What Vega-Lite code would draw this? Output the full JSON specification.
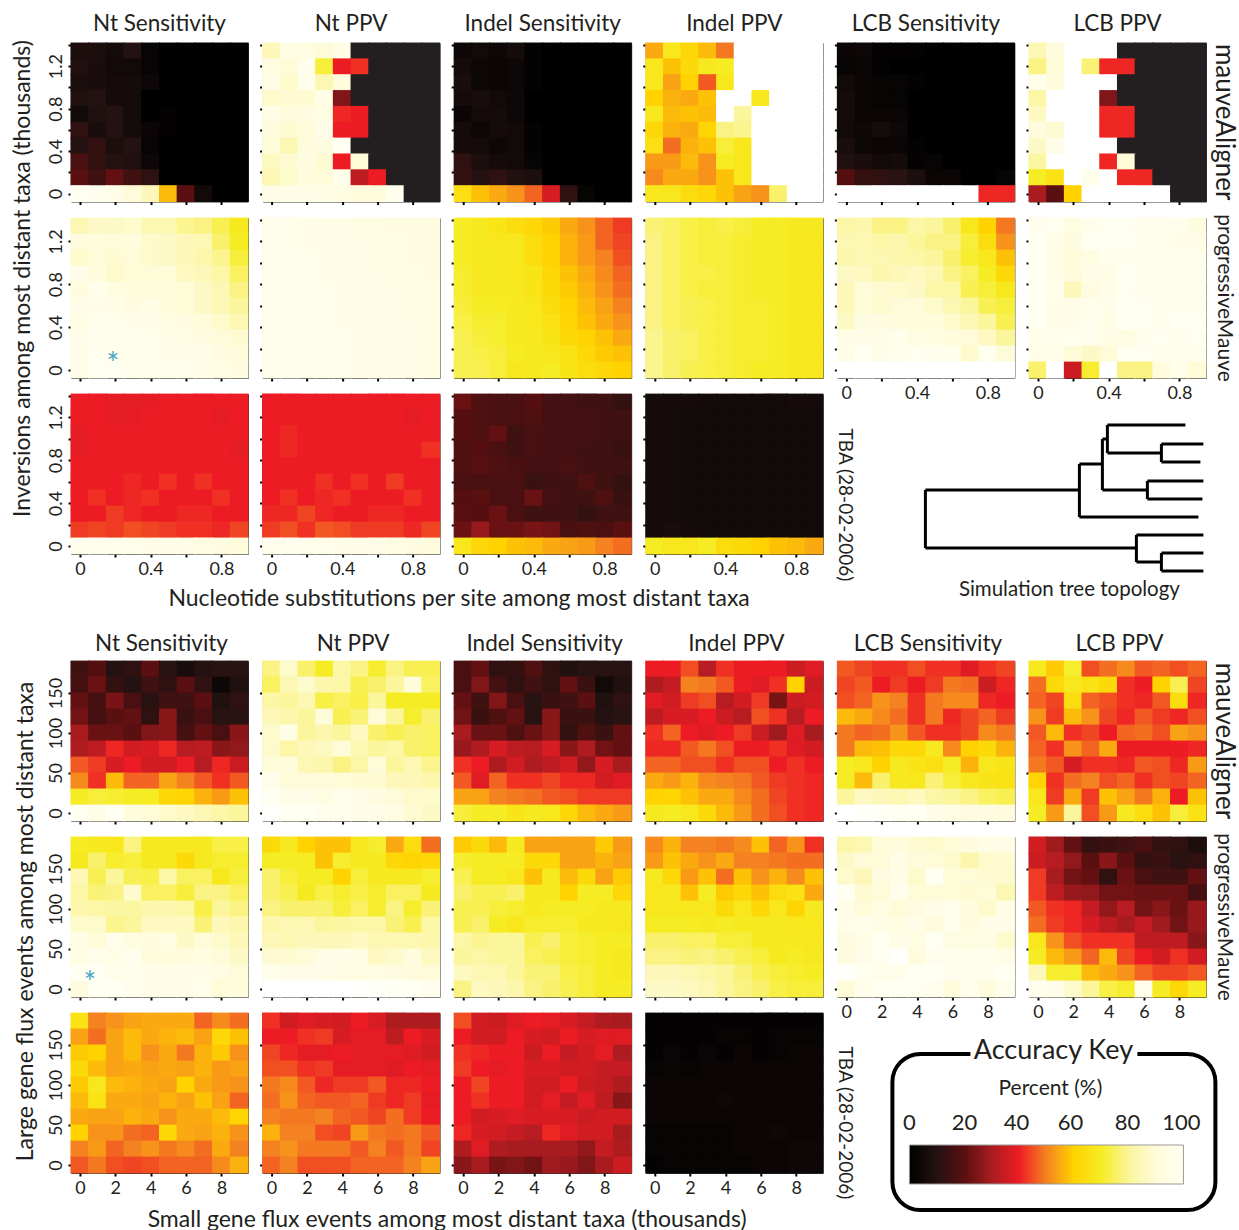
{"$schema":"https://vega.github.io/schema/vega-lite/v6.json","padding":{"left":10,"top":12,"right":0,"bottom":0},"background":"white",
"config":{"font":"Lato","legend":{"disable":true},"view":{"stroke":"#333","strokeWidth":1},"rect":{"width":18.8,"height":16.8,"clip":true},"range":{"heatmap":["#231f20","#000000","#241212","#5a0f10","#a81c20","#ed1c24","#f58220","#ffd200","#f6ec23","#fbf59b","#fefbd8","#fffff2","#ffffff"]},"axis":{"grid":false,"domain":false,"tickSize":3,"tickWidth":2,"tickColor":"#000","labelFontSize":18,"labelColor":"#231f20","labelFont":"Lato","titleFont":"Lato","titleFontWeight":"normal","titleColor":"#231f20","titleFontSize":23,"labelOverlap":false,"labelPadding":3},"title":{"font":"Lato","fontSize":22.5,"fontWeight":"normal","color":"#231f20","offset":7}},
"datasets":{
"a1":[{"x":0,"y":9,"v":8},{"x":1,"y":9,"v":8},{"x":2,"y":9,"v":6},{"x":3,"y":9,"v":10},{"x":4,"y":9,"v":2},{"x":5,"y":9,"v":0},{"x":6,"y":9,"v":0},{"x":7,"y":9,"v":0},{"x":8,"y":9,"v":0},{"x":9,"y":9,"v":0},{"x":0,"y":8,"v":9},{"x":1,"y":8,"v":7},{"x":2,"y":8,"v":5},{"x":3,"y":8,"v":5},{"x":4,"y":8,"v":2},{"x":5,"y":8,"v":0},{"x":6,"y":8,"v":0},{"x":7,"y":8,"v":0},{"x":8,"y":8,"v":0},{"x":9,"y":8,"v":0},{"x":0,"y":7,"v":8},{"x":1,"y":7,"v":7},{"x":2,"y":7,"v":6},{"x":3,"y":7,"v":6},{"x":4,"y":7,"v":4},{"x":5,"y":7,"v":0},{"x":6,"y":7,"v":0},{"x":7,"y":7,"v":0},{"x":8,"y":7,"v":0},{"x":9,"y":7,"v":0},{"x":0,"y":6,"v":9},{"x":1,"y":6,"v":10},{"x":2,"y":6,"v":6},{"x":3,"y":6,"v":6},{"x":4,"y":6,"v":0},{"x":5,"y":6,"v":0},{"x":6,"y":6,"v":0},{"x":7,"y":6,"v":0},{"x":8,"y":6,"v":0},{"x":9,"y":6,"v":0},{"x":0,"y":5,"v":5},{"x":1,"y":5,"v":9},{"x":2,"y":5,"v":10},{"x":3,"y":5,"v":6},{"x":4,"y":5,"v":0},{"x":5,"y":5,"v":1},{"x":6,"y":5,"v":0},{"x":7,"y":5,"v":0},{"x":8,"y":5,"v":0},{"x":9,"y":5,"v":0},{"x":0,"y":4,"v":12},{"x":1,"y":4,"v":7},{"x":2,"y":4,"v":10},{"x":3,"y":4,"v":6},{"x":4,"y":4,"v":3},{"x":5,"y":4,"v":1},{"x":6,"y":4,"v":0},{"x":7,"y":4,"v":0},{"x":8,"y":4,"v":0},{"x":9,"y":4,"v":0},{"x":0,"y":3,"v":10},{"x":1,"y":3,"v":13},{"x":2,"y":3,"v":8},{"x":3,"y":3,"v":10},{"x":4,"y":3,"v":2},{"x":5,"y":3,"v":0},{"x":6,"y":3,"v":0},{"x":7,"y":3,"v":0},{"x":8,"y":3,"v":0},{"x":9,"y":3,"v":0},{"x":0,"y":2,"v":17},{"x":1,"y":2,"v":13},{"x":2,"y":2,"v":10},{"x":3,"y":2,"v":9},{"x":4,"y":2,"v":4},{"x":5,"y":2,"v":0},{"x":6,"y":2,"v":0},{"x":7,"y":2,"v":0},{"x":8,"y":2,"v":0},{"x":9,"y":2,"v":0},{"x":0,"y":1,"v":20},{"x":1,"y":1,"v":15},{"x":2,"y":1,"v":21},{"x":3,"y":1,"v":15},{"x":4,"y":1,"v":12},{"x":5,"y":1,"v":0},{"x":6,"y":1,"v":0},{"x":7,"y":1,"v":0},{"x":8,"y":1,"v":0},{"x":9,"y":1,"v":0},{"x":0,"y":0,"v":100},{"x":1,"y":0,"v":98},{"x":2,"y":0,"v":96},{"x":3,"y":0,"v":91},{"x":4,"y":0,"v":85},{"x":5,"y":0,"v":57},{"x":6,"y":0,"v":20},{"x":7,"y":0,"v":5},{"x":8,"y":0,"v":0},{"x":9,"y":0,"v":0}],
"a2":[{"x":0,"y":9,"v":85},{"x":1,"y":9,"v":94},{"x":2,"y":9,"v":94},{"x":3,"y":9,"v":90},{"x":4,"y":9,"v":95},{"x":5,"y":9,"v":-10},{"x":6,"y":9,"v":-10},{"x":7,"y":9,"v":-10},{"x":8,"y":9,"v":-10},{"x":9,"y":9,"v":-10},{"x":0,"y":8,"v":94},{"x":1,"y":8,"v":90},{"x":2,"y":8,"v":97},{"x":3,"y":8,"v":72},{"x":4,"y":8,"v":40},{"x":5,"y":8,"v":42},{"x":6,"y":8,"v":-10},{"x":7,"y":8,"v":-10},{"x":8,"y":8,"v":-10},{"x":9,"y":8,"v":-10},{"x":0,"y":7,"v":95},{"x":1,"y":7,"v":88},{"x":2,"y":7,"v":97},{"x":3,"y":7,"v":84},{"x":4,"y":7,"v":92},{"x":5,"y":7,"v":-10},{"x":6,"y":7,"v":-10},{"x":7,"y":7,"v":-10},{"x":8,"y":7,"v":-10},{"x":9,"y":7,"v":-10},{"x":0,"y":6,"v":88},{"x":1,"y":6,"v":89},{"x":2,"y":6,"v":89},{"x":3,"y":6,"v":95},{"x":4,"y":6,"v":25},{"x":5,"y":6,"v":-10},{"x":6,"y":6,"v":-10},{"x":7,"y":6,"v":-10},{"x":8,"y":6,"v":-10},{"x":9,"y":6,"v":-10},{"x":0,"y":5,"v":95},{"x":1,"y":5,"v":92},{"x":2,"y":5,"v":93},{"x":3,"y":5,"v":94},{"x":4,"y":5,"v":41},{"x":5,"y":5,"v":40},{"x":6,"y":5,"v":-10},{"x":7,"y":5,"v":-10},{"x":8,"y":5,"v":-10},{"x":9,"y":5,"v":-10},{"x":0,"y":4,"v":92},{"x":1,"y":4,"v":89},{"x":2,"y":4,"v":90},{"x":3,"y":4,"v":96},{"x":4,"y":4,"v":40},{"x":5,"y":4,"v":40},{"x":6,"y":4,"v":-10},{"x":7,"y":4,"v":-10},{"x":8,"y":4,"v":-10},{"x":9,"y":4,"v":-10},{"x":0,"y":3,"v":91},{"x":1,"y":3,"v":84},{"x":2,"y":3,"v":92},{"x":3,"y":3,"v":93},{"x":4,"y":3,"v":100},{"x":5,"y":3,"v":-10},{"x":6,"y":3,"v":-10},{"x":7,"y":3,"v":-10},{"x":8,"y":3,"v":-10},{"x":9,"y":3,"v":-10},{"x":0,"y":2,"v":86},{"x":1,"y":2,"v":89},{"x":2,"y":2,"v":93},{"x":3,"y":2,"v":89},{"x":4,"y":2,"v":40},{"x":5,"y":2,"v":90},{"x":6,"y":2,"v":-10},{"x":7,"y":2,"v":-10},{"x":8,"y":2,"v":-10},{"x":9,"y":2,"v":-10},{"x":0,"y":1,"v":84},{"x":1,"y":1,"v":88},{"x":2,"y":1,"v":92},{"x":3,"y":1,"v":90},{"x":4,"y":1,"v":97},{"x":5,"y":1,"v":33},{"x":6,"y":1,"v":40},{"x":7,"y":1,"v":-10},{"x":8,"y":1,"v":-10},{"x":9,"y":1,"v":-10},{"x":0,"y":0,"v":96},{"x":1,"y":0,"v":95},{"x":2,"y":0,"v":95},{"x":3,"y":0,"v":95},{"x":4,"y":0,"v":94},{"x":5,"y":0,"v":92},{"x":6,"y":0,"v":92},{"x":7,"y":0,"v":98},{"x":8,"y":0,"v":-10},{"x":9,"y":0,"v":-10}],
"a3":[{"x":0,"y":9,"v":4},{"x":1,"y":9,"v":5},{"x":2,"y":9,"v":4},{"x":3,"y":9,"v":6},{"x":4,"y":9,"v":1},{"x":5,"y":9,"v":0},{"x":6,"y":9,"v":0},{"x":7,"y":9,"v":0},{"x":8,"y":9,"v":0},{"x":9,"y":9,"v":0},{"x":0,"y":8,"v":6},{"x":1,"y":8,"v":4},{"x":2,"y":8,"v":3},{"x":3,"y":8,"v":4},{"x":4,"y":8,"v":1},{"x":5,"y":8,"v":0},{"x":6,"y":8,"v":0},{"x":7,"y":8,"v":0},{"x":8,"y":8,"v":0},{"x":9,"y":8,"v":0},{"x":0,"y":7,"v":7},{"x":1,"y":7,"v":4},{"x":2,"y":7,"v":3},{"x":3,"y":7,"v":4},{"x":4,"y":7,"v":1},{"x":5,"y":7,"v":0},{"x":6,"y":7,"v":0},{"x":7,"y":7,"v":0},{"x":8,"y":7,"v":0},{"x":9,"y":7,"v":0},{"x":0,"y":6,"v":6},{"x":1,"y":6,"v":7},{"x":2,"y":6,"v":5},{"x":3,"y":6,"v":4},{"x":4,"y":6,"v":0},{"x":5,"y":6,"v":0},{"x":6,"y":6,"v":0},{"x":7,"y":6,"v":0},{"x":8,"y":6,"v":0},{"x":9,"y":6,"v":0},{"x":0,"y":5,"v":3},{"x":1,"y":5,"v":6},{"x":2,"y":5,"v":6},{"x":3,"y":5,"v":4},{"x":4,"y":5,"v":0},{"x":5,"y":5,"v":0},{"x":6,"y":5,"v":0},{"x":7,"y":5,"v":0},{"x":8,"y":5,"v":0},{"x":9,"y":5,"v":0},{"x":0,"y":4,"v":6},{"x":1,"y":4,"v":4},{"x":2,"y":4,"v":6},{"x":3,"y":4,"v":5},{"x":4,"y":4,"v":1},{"x":5,"y":4,"v":0},{"x":6,"y":4,"v":0},{"x":7,"y":4,"v":0},{"x":8,"y":4,"v":0},{"x":9,"y":4,"v":0},{"x":0,"y":3,"v":6},{"x":1,"y":3,"v":6},{"x":2,"y":3,"v":4},{"x":3,"y":3,"v":5},{"x":4,"y":3,"v":1},{"x":5,"y":3,"v":0},{"x":6,"y":3,"v":0},{"x":7,"y":3,"v":0},{"x":8,"y":3,"v":0},{"x":9,"y":3,"v":0},{"x":0,"y":2,"v":12},{"x":1,"y":2,"v":8},{"x":2,"y":2,"v":6},{"x":3,"y":2,"v":5},{"x":4,"y":2,"v":2},{"x":5,"y":2,"v":0},{"x":6,"y":2,"v":0},{"x":7,"y":2,"v":0},{"x":8,"y":2,"v":0},{"x":9,"y":2,"v":0},{"x":0,"y":1,"v":13},{"x":1,"y":1,"v":10},{"x":2,"y":1,"v":12},{"x":3,"y":1,"v":9},{"x":4,"y":1,"v":8},{"x":5,"y":1,"v":0},{"x":6,"y":1,"v":0},{"x":7,"y":1,"v":0},{"x":8,"y":1,"v":0},{"x":9,"y":1,"v":0},{"x":0,"y":0,"v":65},{"x":1,"y":0,"v":58},{"x":2,"y":0,"v":55},{"x":3,"y":0,"v":52},{"x":4,"y":0,"v":47},{"x":5,"y":0,"v":37},{"x":6,"y":0,"v":12},{"x":7,"y":0,"v":2},{"x":8,"y":0,"v":0},{"x":9,"y":0,"v":0}],
"a4":[{"x":0,"y":9,"v":55},{"x":1,"y":9,"v":68},{"x":2,"y":9,"v":62},{"x":3,"y":9,"v":57},{"x":4,"y":9,"v":49},{"x":5,"y":9,"v":110},{"x":6,"y":9,"v":110},{"x":7,"y":9,"v":110},{"x":8,"y":9,"v":110},{"x":9,"y":9,"v":110},{"x":0,"y":8,"v":68},{"x":1,"y":8,"v":58},{"x":2,"y":8,"v":63},{"x":3,"y":8,"v":69},{"x":4,"y":8,"v":70},{"x":5,"y":8,"v":110},{"x":6,"y":8,"v":110},{"x":7,"y":8,"v":110},{"x":8,"y":8,"v":110},{"x":9,"y":8,"v":110},{"x":0,"y":7,"v":68},{"x":1,"y":7,"v":54},{"x":2,"y":7,"v":60},{"x":3,"y":7,"v":46},{"x":4,"y":7,"v":68},{"x":5,"y":7,"v":110},{"x":6,"y":7,"v":110},{"x":7,"y":7,"v":110},{"x":8,"y":7,"v":110},{"x":9,"y":7,"v":110},{"x":0,"y":6,"v":60},{"x":1,"y":6,"v":56},{"x":2,"y":6,"v":55},{"x":3,"y":6,"v":58},{"x":4,"y":6,"v":110},{"x":5,"y":6,"v":110},{"x":6,"y":6,"v":68},{"x":7,"y":6,"v":110},{"x":8,"y":6,"v":110},{"x":9,"y":6,"v":110},{"x":0,"y":5,"v":68},{"x":1,"y":5,"v":57},{"x":2,"y":5,"v":58},{"x":3,"y":5,"v":57},{"x":4,"y":5,"v":110},{"x":5,"y":5,"v":80},{"x":6,"y":5,"v":110},{"x":7,"y":5,"v":110},{"x":8,"y":5,"v":110},{"x":9,"y":5,"v":110},{"x":0,"y":4,"v":62},{"x":1,"y":4,"v":56},{"x":2,"y":4,"v":55},{"x":3,"y":4,"v":61},{"x":4,"y":4,"v":78},{"x":5,"y":4,"v":79},{"x":6,"y":4,"v":110},{"x":7,"y":4,"v":110},{"x":8,"y":4,"v":110},{"x":9,"y":4,"v":110},{"x":0,"y":3,"v":65},{"x":1,"y":3,"v":48},{"x":2,"y":3,"v":56},{"x":3,"y":3,"v":58},{"x":4,"y":3,"v":72},{"x":5,"y":3,"v":68},{"x":6,"y":3,"v":110},{"x":7,"y":3,"v":110},{"x":8,"y":3,"v":110},{"x":9,"y":3,"v":110},{"x":0,"y":2,"v":53},{"x":1,"y":2,"v":53},{"x":2,"y":2,"v":57},{"x":3,"y":2,"v":52},{"x":4,"y":2,"v":70},{"x":5,"y":2,"v":68},{"x":6,"y":2,"v":110},{"x":7,"y":2,"v":110},{"x":8,"y":2,"v":110},{"x":9,"y":2,"v":110},{"x":0,"y":1,"v":51},{"x":1,"y":1,"v":55},{"x":2,"y":1,"v":55},{"x":3,"y":1,"v":52},{"x":4,"y":1,"v":58},{"x":5,"y":1,"v":68},{"x":6,"y":1,"v":110},{"x":7,"y":1,"v":110},{"x":8,"y":1,"v":110},{"x":9,"y":1,"v":110},{"x":0,"y":0,"v":68},{"x":1,"y":0,"v":68},{"x":2,"y":0,"v":64},{"x":3,"y":0,"v":62},{"x":4,"y":0,"v":58},{"x":5,"y":0,"v":54},{"x":6,"y":0,"v":52},{"x":7,"y":0,"v":76},{"x":8,"y":0,"v":110},{"x":9,"y":0,"v":110}],
"a5":[{"x":0,"y":9,"v":3},{"x":1,"y":9,"v":4},{"x":2,"y":9,"v":1},{"x":3,"y":9,"v":1},{"x":4,"y":9,"v":1},{"x":5,"y":9,"v":0},{"x":6,"y":9,"v":0},{"x":7,"y":9,"v":0},{"x":8,"y":9,"v":0},{"x":9,"y":9,"v":0},{"x":0,"y":8,"v":2},{"x":1,"y":8,"v":3},{"x":2,"y":8,"v":1},{"x":3,"y":8,"v":0},{"x":4,"y":8,"v":0},{"x":5,"y":8,"v":0},{"x":6,"y":8,"v":0},{"x":7,"y":8,"v":0},{"x":8,"y":8,"v":0},{"x":9,"y":8,"v":0},{"x":0,"y":7,"v":5},{"x":1,"y":7,"v":3},{"x":2,"y":7,"v":2},{"x":3,"y":7,"v":2},{"x":4,"y":7,"v":1},{"x":5,"y":7,"v":0},{"x":6,"y":7,"v":0},{"x":7,"y":7,"v":0},{"x":8,"y":7,"v":0},{"x":9,"y":7,"v":0},{"x":0,"y":6,"v":6},{"x":1,"y":6,"v":3},{"x":2,"y":6,"v":2},{"x":3,"y":6,"v":2},{"x":4,"y":6,"v":0},{"x":5,"y":6,"v":0},{"x":6,"y":6,"v":0},{"x":7,"y":6,"v":0},{"x":8,"y":6,"v":0},{"x":9,"y":6,"v":0},{"x":0,"y":5,"v":6},{"x":1,"y":5,"v":3},{"x":2,"y":5,"v":3},{"x":3,"y":5,"v":3},{"x":4,"y":5,"v":0},{"x":5,"y":5,"v":0},{"x":6,"y":5,"v":0},{"x":7,"y":5,"v":0},{"x":8,"y":5,"v":0},{"x":9,"y":5,"v":0},{"x":0,"y":4,"v":5},{"x":1,"y":4,"v":4},{"x":2,"y":4,"v":6},{"x":3,"y":4,"v":4},{"x":4,"y":4,"v":0},{"x":5,"y":4,"v":0},{"x":6,"y":4,"v":0},{"x":7,"y":4,"v":0},{"x":8,"y":4,"v":0},{"x":9,"y":4,"v":0},{"x":0,"y":3,"v":7},{"x":1,"y":3,"v":4},{"x":2,"y":3,"v":3},{"x":3,"y":3,"v":3},{"x":4,"y":3,"v":1},{"x":5,"y":3,"v":0},{"x":6,"y":3,"v":0},{"x":7,"y":3,"v":0},{"x":8,"y":3,"v":0},{"x":9,"y":3,"v":0},{"x":0,"y":2,"v":9},{"x":1,"y":2,"v":7},{"x":2,"y":2,"v":5},{"x":3,"y":2,"v":6},{"x":4,"y":2,"v":1},{"x":5,"y":2,"v":2},{"x":6,"y":2,"v":0},{"x":7,"y":2,"v":0},{"x":8,"y":2,"v":0},{"x":9,"y":2,"v":0},{"x":0,"y":1,"v":19},{"x":1,"y":1,"v":13},{"x":2,"y":1,"v":12},{"x":3,"y":1,"v":11},{"x":4,"y":1,"v":8},{"x":5,"y":1,"v":3},{"x":6,"y":1,"v":3},{"x":7,"y":1,"v":0},{"x":8,"y":1,"v":0},{"x":9,"y":1,"v":2},{"x":0,"y":0,"v":110},{"x":1,"y":0,"v":110},{"x":2,"y":0,"v":110},{"x":3,"y":0,"v":110},{"x":4,"y":0,"v":110},{"x":5,"y":0,"v":110},{"x":6,"y":0,"v":110},{"x":7,"y":0,"v":110},{"x":8,"y":0,"v":41},{"x":9,"y":0,"v":41}],
"a6":[{"x":0,"y":9,"v":84},{"x":1,"y":9,"v":92},{"x":2,"y":9,"v":110},{"x":3,"y":9,"v":110},{"x":4,"y":9,"v":110},{"x":5,"y":9,"v":-10},{"x":6,"y":9,"v":-10},{"x":7,"y":9,"v":-10},{"x":8,"y":9,"v":-10},{"x":9,"y":9,"v":-10},{"x":0,"y":8,"v":78},{"x":1,"y":8,"v":90},{"x":2,"y":8,"v":110},{"x":3,"y":8,"v":77},{"x":4,"y":8,"v":41},{"x":5,"y":8,"v":41},{"x":6,"y":8,"v":-10},{"x":7,"y":8,"v":-10},{"x":8,"y":8,"v":-10},{"x":9,"y":8,"v":-10},{"x":0,"y":7,"v":97},{"x":1,"y":7,"v":92},{"x":2,"y":7,"v":110},{"x":3,"y":7,"v":110},{"x":4,"y":7,"v":110},{"x":5,"y":7,"v":-10},{"x":6,"y":7,"v":-10},{"x":7,"y":7,"v":-10},{"x":8,"y":7,"v":-10},{"x":9,"y":7,"v":-10},{"x":0,"y":6,"v":82},{"x":1,"y":6,"v":110},{"x":2,"y":6,"v":110},{"x":3,"y":6,"v":110},{"x":4,"y":6,"v":25},{"x":5,"y":6,"v":-10},{"x":6,"y":6,"v":-10},{"x":7,"y":6,"v":-10},{"x":8,"y":6,"v":-10},{"x":9,"y":6,"v":-10},{"x":0,"y":5,"v":86},{"x":1,"y":5,"v":110},{"x":2,"y":5,"v":110},{"x":3,"y":5,"v":110},{"x":4,"y":5,"v":41},{"x":5,"y":5,"v":41},{"x":6,"y":5,"v":-10},{"x":7,"y":5,"v":-10},{"x":8,"y":5,"v":-10},{"x":9,"y":5,"v":-10},{"x":0,"y":4,"v":92},{"x":1,"y":4,"v":89},{"x":2,"y":4,"v":110},{"x":3,"y":4,"v":110},{"x":4,"y":4,"v":41},{"x":5,"y":4,"v":41},{"x":6,"y":4,"v":-10},{"x":7,"y":4,"v":-10},{"x":8,"y":4,"v":-10},{"x":9,"y":4,"v":-10},{"x":0,"y":3,"v":87},{"x":1,"y":3,"v":96},{"x":2,"y":3,"v":110},{"x":3,"y":3,"v":110},{"x":4,"y":3,"v":110},{"x":5,"y":3,"v":-10},{"x":6,"y":3,"v":-10},{"x":7,"y":3,"v":-10},{"x":8,"y":3,"v":-10},{"x":9,"y":3,"v":-10},{"x":0,"y":2,"v":81},{"x":1,"y":2,"v":110},{"x":2,"y":2,"v":110},{"x":3,"y":2,"v":110},{"x":4,"y":2,"v":41},{"x":5,"y":2,"v":90},{"x":6,"y":2,"v":-10},{"x":7,"y":2,"v":-10},{"x":8,"y":2,"v":-10},{"x":9,"y":2,"v":-10},{"x":0,"y":1,"v":70},{"x":1,"y":1,"v":66},{"x":2,"y":1,"v":110},{"x":3,"y":1,"v":97},{"x":4,"y":1,"v":110},{"x":5,"y":1,"v":41},{"x":6,"y":1,"v":41},{"x":7,"y":1,"v":-10},{"x":8,"y":1,"v":-10},{"x":9,"y":1,"v":-10},{"x":0,"y":0,"v":30},{"x":1,"y":0,"v":20},{"x":2,"y":0,"v":60},{"x":3,"y":0,"v":110},{"x":4,"y":0,"v":110},{"x":5,"y":0,"v":110},{"x":6,"y":0,"v":110},{"x":7,"y":0,"v":110},{"x":8,"y":0,"v":-10},{"x":9,"y":0,"v":-10}],
"b1":[{"x":0,"y":9,"v":84},{"x":1,"y":9,"v":87},{"x":2,"y":9,"v":87},{"x":3,"y":9,"v":88},{"x":4,"y":9,"v":84},{"x":5,"y":9,"v":84},{"x":6,"y":9,"v":79},{"x":7,"y":9,"v":78},{"x":8,"y":9,"v":74},{"x":9,"y":9,"v":69},{"x":0,"y":8,"v":92},{"x":1,"y":8,"v":92},{"x":2,"y":8,"v":90},{"x":3,"y":8,"v":92},{"x":4,"y":8,"v":88},{"x":5,"y":8,"v":87},{"x":6,"y":8,"v":85},{"x":7,"y":8,"v":84},{"x":8,"y":8,"v":76},{"x":9,"y":8,"v":70},{"x":0,"y":7,"v":88},{"x":1,"y":7,"v":90},{"x":2,"y":7,"v":89},{"x":3,"y":7,"v":90},{"x":4,"y":7,"v":88},{"x":5,"y":7,"v":87},{"x":6,"y":7,"v":85},{"x":7,"y":7,"v":83},{"x":8,"y":7,"v":79},{"x":9,"y":7,"v":72},{"x":0,"y":6,"v":96},{"x":1,"y":6,"v":92},{"x":2,"y":6,"v":88},{"x":3,"y":6,"v":90},{"x":4,"y":6,"v":90},{"x":5,"y":6,"v":90},{"x":6,"y":6,"v":86},{"x":7,"y":6,"v":85},{"x":8,"y":6,"v":82},{"x":9,"y":6,"v":75},{"x":0,"y":5,"v":92},{"x":1,"y":5,"v":97},{"x":2,"y":5,"v":94},{"x":3,"y":5,"v":92},{"x":4,"y":5,"v":91},{"x":5,"y":5,"v":91},{"x":6,"y":5,"v":90},{"x":7,"y":5,"v":87},{"x":8,"y":5,"v":84},{"x":9,"y":5,"v":78},{"x":0,"y":4,"v":96},{"x":1,"y":4,"v":95},{"x":2,"y":4,"v":95},{"x":3,"y":4,"v":93},{"x":4,"y":4,"v":95},{"x":5,"y":4,"v":92},{"x":6,"y":4,"v":90},{"x":7,"y":4,"v":87},{"x":8,"y":4,"v":84},{"x":9,"y":4,"v":80},{"x":0,"y":3,"v":95},{"x":1,"y":3,"v":98},{"x":2,"y":3,"v":97},{"x":3,"y":3,"v":96},{"x":4,"y":3,"v":95},{"x":5,"y":3,"v":94},{"x":6,"y":3,"v":93},{"x":7,"y":3,"v":91},{"x":8,"y":3,"v":88},{"x":9,"y":3,"v":84},{"x":0,"y":2,"v":96},{"x":1,"y":2,"v":98},{"x":2,"y":2,"v":98},{"x":3,"y":2,"v":97},{"x":4,"y":2,"v":97},{"x":5,"y":2,"v":95},{"x":6,"y":2,"v":94},{"x":7,"y":2,"v":93},{"x":8,"y":2,"v":91},{"x":9,"y":2,"v":89},{"x":0,"y":1,"v":96},{"x":1,"y":1,"v":99},{"x":2,"y":1,"v":98},{"x":3,"y":1,"v":97},{"x":4,"y":1,"v":97},{"x":5,"y":1,"v":96},{"x":6,"y":1,"v":96},{"x":7,"y":1,"v":96},{"x":8,"y":1,"v":93},{"x":9,"y":1,"v":92},{"x":0,"y":0,"v":96},{"x":1,"y":0,"v":99},{"x":2,"y":0,"v":99},{"x":3,"y":0,"v":98},{"x":4,"y":0,"v":97},{"x":5,"y":0,"v":97},{"x":6,"y":0,"v":97},{"x":7,"y":0,"v":96},{"x":8,"y":0,"v":94},{"x":9,"y":0,"v":93}],
"b2":[{"x":0,"y":9,"v":97},{"x":1,"y":9,"v":97},{"x":2,"y":9,"v":96},{"x":3,"y":9,"v":95},{"x":4,"y":9,"v":95},{"x":5,"y":9,"v":94},{"x":6,"y":9,"v":94},{"x":7,"y":9,"v":93},{"x":8,"y":9,"v":93},{"x":9,"y":9,"v":93},{"x":0,"y":8,"v":98},{"x":1,"y":8,"v":97},{"x":2,"y":8,"v":96},{"x":3,"y":8,"v":96},{"x":4,"y":8,"v":95},{"x":5,"y":8,"v":95},{"x":6,"y":8,"v":94},{"x":7,"y":8,"v":94},{"x":8,"y":8,"v":93},{"x":9,"y":8,"v":93},{"x":0,"y":7,"v":98},{"x":1,"y":7,"v":97},{"x":2,"y":7,"v":97},{"x":3,"y":7,"v":96},{"x":4,"y":7,"v":95},{"x":5,"y":7,"v":95},{"x":6,"y":7,"v":94},{"x":7,"y":7,"v":94},{"x":8,"y":7,"v":93},{"x":9,"y":7,"v":93},{"x":0,"y":6,"v":98},{"x":1,"y":6,"v":97},{"x":2,"y":6,"v":97},{"x":3,"y":6,"v":96},{"x":4,"y":6,"v":96},{"x":5,"y":6,"v":95},{"x":6,"y":6,"v":95},{"x":7,"y":6,"v":94},{"x":8,"y":6,"v":94},{"x":9,"y":6,"v":93},{"x":0,"y":5,"v":98},{"x":1,"y":5,"v":98},{"x":2,"y":5,"v":97},{"x":3,"y":5,"v":97},{"x":4,"y":5,"v":96},{"x":5,"y":5,"v":96},{"x":6,"y":5,"v":95},{"x":7,"y":5,"v":95},{"x":8,"y":5,"v":94},{"x":9,"y":5,"v":94},{"x":0,"y":4,"v":98},{"x":1,"y":4,"v":98},{"x":2,"y":4,"v":97},{"x":3,"y":4,"v":97},{"x":4,"y":4,"v":96},{"x":5,"y":4,"v":96},{"x":6,"y":4,"v":95},{"x":7,"y":4,"v":95},{"x":8,"y":4,"v":94},{"x":9,"y":4,"v":94},{"x":0,"y":3,"v":98},{"x":1,"y":3,"v":98},{"x":2,"y":3,"v":98},{"x":3,"y":3,"v":97},{"x":4,"y":3,"v":96},{"x":5,"y":3,"v":96},{"x":6,"y":3,"v":95},{"x":7,"y":3,"v":95},{"x":8,"y":3,"v":95},{"x":9,"y":3,"v":94},{"x":0,"y":2,"v":98},{"x":1,"y":2,"v":98},{"x":2,"y":2,"v":98},{"x":3,"y":2,"v":97},{"x":4,"y":2,"v":97},{"x":5,"y":2,"v":96},{"x":6,"y":2,"v":96},{"x":7,"y":2,"v":95},{"x":8,"y":2,"v":95},{"x":9,"y":2,"v":94},{"x":0,"y":1,"v":98},{"x":1,"y":1,"v":98},{"x":2,"y":1,"v":98},{"x":3,"y":1,"v":97},{"x":4,"y":1,"v":97},{"x":5,"y":1,"v":96},{"x":6,"y":1,"v":96},{"x":7,"y":1,"v":95},{"x":8,"y":1,"v":95},{"x":9,"y":1,"v":94},{"x":0,"y":0,"v":98},{"x":1,"y":0,"v":98},{"x":2,"y":0,"v":98},{"x":3,"y":0,"v":97},{"x":4,"y":0,"v":97},{"x":5,"y":0,"v":96},{"x":6,"y":0,"v":96},{"x":7,"y":0,"v":95},{"x":8,"y":0,"v":95},{"x":9,"y":0,"v":94}],
"b3":[{"x":0,"y":9,"v":70},{"x":1,"y":9,"v":69},{"x":2,"y":9,"v":67},{"x":3,"y":9,"v":64},{"x":4,"y":9,"v":62},{"x":5,"y":9,"v":59},{"x":6,"y":9,"v":55},{"x":7,"y":9,"v":52},{"x":8,"y":9,"v":47},{"x":9,"y":9,"v":43},{"x":0,"y":8,"v":70},{"x":1,"y":8,"v":69},{"x":2,"y":8,"v":68},{"x":3,"y":8,"v":68},{"x":4,"y":8,"v":64},{"x":5,"y":8,"v":60},{"x":6,"y":8,"v":56},{"x":7,"y":8,"v":53},{"x":8,"y":8,"v":47},{"x":9,"y":8,"v":44},{"x":0,"y":7,"v":70},{"x":1,"y":7,"v":69},{"x":2,"y":7,"v":69},{"x":3,"y":7,"v":68},{"x":4,"y":7,"v":64},{"x":5,"y":7,"v":60},{"x":6,"y":7,"v":56},{"x":7,"y":7,"v":53},{"x":8,"y":7,"v":50},{"x":9,"y":7,"v":45},{"x":0,"y":6,"v":71},{"x":1,"y":6,"v":69},{"x":2,"y":6,"v":69},{"x":3,"y":6,"v":68},{"x":4,"y":6,"v":67},{"x":5,"y":6,"v":62},{"x":6,"y":6,"v":58},{"x":7,"y":6,"v":55},{"x":8,"y":6,"v":51},{"x":9,"y":6,"v":47},{"x":0,"y":5,"v":71},{"x":1,"y":5,"v":69},{"x":2,"y":5,"v":69},{"x":3,"y":5,"v":69},{"x":4,"y":5,"v":67},{"x":5,"y":5,"v":63},{"x":6,"y":5,"v":59},{"x":7,"y":5,"v":56},{"x":8,"y":5,"v":52},{"x":9,"y":5,"v":48},{"x":0,"y":4,"v":72},{"x":1,"y":4,"v":70},{"x":2,"y":4,"v":70},{"x":3,"y":4,"v":69},{"x":4,"y":4,"v":68},{"x":5,"y":4,"v":64},{"x":6,"y":4,"v":60},{"x":7,"y":4,"v":57},{"x":8,"y":4,"v":54},{"x":9,"y":4,"v":50},{"x":0,"y":3,"v":73},{"x":1,"y":3,"v":71},{"x":2,"y":3,"v":71},{"x":3,"y":3,"v":69},{"x":4,"y":3,"v":68},{"x":5,"y":3,"v":66},{"x":6,"y":3,"v":61},{"x":7,"y":3,"v":58},{"x":8,"y":3,"v":55},{"x":9,"y":3,"v":52},{"x":0,"y":2,"v":74},{"x":1,"y":2,"v":72},{"x":2,"y":2,"v":71},{"x":3,"y":2,"v":69},{"x":4,"y":2,"v":69},{"x":5,"y":2,"v":67},{"x":6,"y":2,"v":63},{"x":7,"y":2,"v":60},{"x":8,"y":2,"v":58},{"x":9,"y":2,"v":55},{"x":0,"y":1,"v":74},{"x":1,"y":1,"v":73},{"x":2,"y":1,"v":72},{"x":3,"y":1,"v":70},{"x":4,"y":1,"v":69},{"x":5,"y":1,"v":68},{"x":6,"y":1,"v":66},{"x":7,"y":1,"v":62},{"x":8,"y":1,"v":59},{"x":9,"y":1,"v":58},{"x":0,"y":0,"v":74},{"x":1,"y":0,"v":74},{"x":2,"y":0,"v":72},{"x":3,"y":0,"v":68},{"x":4,"y":0,"v":69},{"x":5,"y":0,"v":70},{"x":6,"y":0,"v":67},{"x":7,"y":0,"v":64},{"x":8,"y":0,"v":62},{"x":9,"y":0,"v":60}],
"b4":[{"x":0,"y":9,"v":77},{"x":1,"y":9,"v":75},{"x":2,"y":9,"v":73},{"x":3,"y":9,"v":72},{"x":4,"y":9,"v":73},{"x":5,"y":9,"v":72},{"x":6,"y":9,"v":70},{"x":7,"y":9,"v":70},{"x":8,"y":9,"v":69},{"x":9,"y":9,"v":69},{"x":0,"y":8,"v":78},{"x":1,"y":8,"v":75},{"x":2,"y":8,"v":73},{"x":3,"y":8,"v":72},{"x":4,"y":8,"v":72},{"x":5,"y":8,"v":71},{"x":6,"y":8,"v":70},{"x":7,"y":8,"v":70},{"x":8,"y":8,"v":69},{"x":9,"y":8,"v":68},{"x":0,"y":7,"v":78},{"x":1,"y":7,"v":75},{"x":2,"y":7,"v":73},{"x":3,"y":7,"v":72},{"x":4,"y":7,"v":72},{"x":5,"y":7,"v":71},{"x":6,"y":7,"v":70},{"x":7,"y":7,"v":70},{"x":8,"y":7,"v":69},{"x":9,"y":7,"v":68},{"x":0,"y":6,"v":78},{"x":1,"y":6,"v":75},{"x":2,"y":6,"v":73},{"x":3,"y":6,"v":73},{"x":4,"y":6,"v":72},{"x":5,"y":6,"v":71},{"x":6,"y":6,"v":70},{"x":7,"y":6,"v":70},{"x":8,"y":6,"v":69},{"x":9,"y":6,"v":68},{"x":0,"y":5,"v":78},{"x":1,"y":5,"v":75},{"x":2,"y":5,"v":73},{"x":3,"y":5,"v":72},{"x":4,"y":5,"v":72},{"x":5,"y":5,"v":71},{"x":6,"y":5,"v":70},{"x":7,"y":5,"v":70},{"x":8,"y":5,"v":69},{"x":9,"y":5,"v":68},{"x":0,"y":4,"v":78},{"x":1,"y":4,"v":75},{"x":2,"y":4,"v":74},{"x":3,"y":4,"v":73},{"x":4,"y":4,"v":72},{"x":5,"y":4,"v":71},{"x":6,"y":4,"v":71},{"x":7,"y":4,"v":70},{"x":8,"y":4,"v":69},{"x":9,"y":4,"v":68},{"x":0,"y":3,"v":78},{"x":1,"y":3,"v":75},{"x":2,"y":3,"v":74},{"x":3,"y":3,"v":73},{"x":4,"y":3,"v":72},{"x":5,"y":3,"v":71},{"x":6,"y":3,"v":71},{"x":7,"y":3,"v":70},{"x":8,"y":3,"v":69},{"x":9,"y":3,"v":68},{"x":0,"y":2,"v":79},{"x":1,"y":2,"v":76},{"x":2,"y":2,"v":75},{"x":3,"y":2,"v":73},{"x":4,"y":2,"v":72},{"x":5,"y":2,"v":71},{"x":6,"y":2,"v":71},{"x":7,"y":2,"v":70},{"x":8,"y":2,"v":69},{"x":9,"y":2,"v":68},{"x":0,"y":1,"v":79},{"x":1,"y":1,"v":76},{"x":2,"y":1,"v":75},{"x":3,"y":1,"v":73},{"x":4,"y":1,"v":72},{"x":5,"y":1,"v":71},{"x":6,"y":1,"v":71},{"x":7,"y":1,"v":70},{"x":8,"y":1,"v":69},{"x":9,"y":1,"v":68},{"x":0,"y":0,"v":79},{"x":1,"y":0,"v":76},{"x":2,"y":0,"v":74},{"x":3,"y":0,"v":73},{"x":4,"y":0,"v":72},{"x":5,"y":0,"v":71},{"x":6,"y":0,"v":70},{"x":7,"y":0,"v":70},{"x":8,"y":0,"v":69},{"x":9,"y":0,"v":68}],
"b5":[{"x":0,"y":9,"v":82},{"x":1,"y":9,"v":83},{"x":2,"y":9,"v":78},{"x":3,"y":9,"v":78},{"x":4,"y":9,"v":82},{"x":5,"y":9,"v":80},{"x":6,"y":9,"v":76},{"x":7,"y":9,"v":68},{"x":8,"y":9,"v":60},{"x":9,"y":9,"v":49},{"x":0,"y":8,"v":84},{"x":1,"y":8,"v":84},{"x":2,"y":8,"v":82},{"x":3,"y":8,"v":83},{"x":4,"y":8,"v":80},{"x":5,"y":8,"v":78},{"x":6,"y":8,"v":78},{"x":7,"y":8,"v":72},{"x":8,"y":8,"v":64},{"x":9,"y":8,"v":52},{"x":0,"y":7,"v":83},{"x":1,"y":7,"v":84},{"x":2,"y":7,"v":84},{"x":3,"y":7,"v":83},{"x":4,"y":7,"v":82},{"x":5,"y":7,"v":80},{"x":6,"y":7,"v":76},{"x":7,"y":7,"v":71},{"x":8,"y":7,"v":68},{"x":9,"y":7,"v":58},{"x":0,"y":6,"v":87},{"x":1,"y":6,"v":86},{"x":2,"y":6,"v":83},{"x":3,"y":6,"v":85},{"x":4,"y":6,"v":86},{"x":5,"y":6,"v":84},{"x":6,"y":6,"v":78},{"x":7,"y":6,"v":75},{"x":8,"y":6,"v":70},{"x":9,"y":6,"v":62},{"x":0,"y":5,"v":85},{"x":1,"y":5,"v":90},{"x":2,"y":5,"v":89},{"x":3,"y":5,"v":88},{"x":4,"y":5,"v":87},{"x":5,"y":5,"v":82},{"x":6,"y":5,"v":82},{"x":7,"y":5,"v":74},{"x":8,"y":5,"v":72},{"x":9,"y":5,"v":68},{"x":0,"y":4,"v":85},{"x":1,"y":4,"v":90},{"x":2,"y":4,"v":88},{"x":3,"y":4,"v":91},{"x":4,"y":4,"v":91},{"x":5,"y":4,"v":88},{"x":6,"y":4,"v":84},{"x":7,"y":4,"v":80},{"x":8,"y":4,"v":74},{"x":9,"y":4,"v":72},{"x":0,"y":3,"v":87},{"x":1,"y":3,"v":93},{"x":2,"y":3,"v":93},{"x":3,"y":3,"v":92},{"x":4,"y":3,"v":90},{"x":5,"y":3,"v":92},{"x":6,"y":3,"v":88},{"x":7,"y":3,"v":84},{"x":8,"y":3,"v":80},{"x":9,"y":3,"v":74},{"x":0,"y":2,"v":95},{"x":1,"y":2,"v":95},{"x":2,"y":2,"v":95},{"x":3,"y":2,"v":97},{"x":4,"y":2,"v":94},{"x":5,"y":2,"v":94},{"x":6,"y":2,"v":92},{"x":7,"y":2,"v":91},{"x":8,"y":2,"v":86},{"x":9,"y":2,"v":80},{"x":0,"y":1,"v":96},{"x":1,"y":1,"v":100},{"x":2,"y":1,"v":96},{"x":3,"y":1,"v":98},{"x":4,"y":1,"v":99},{"x":5,"y":1,"v":98},{"x":6,"y":1,"v":97},{"x":7,"y":1,"v":88},{"x":8,"y":1,"v":99},{"x":9,"y":1,"v":91},{"x":0,"y":0,"v":110},{"x":1,"y":0,"v":110},{"x":2,"y":0,"v":110},{"x":3,"y":0,"v":110},{"x":4,"y":0,"v":110},{"x":5,"y":0,"v":110},{"x":6,"y":0,"v":110},{"x":7,"y":0,"v":110},{"x":8,"y":0,"v":110},{"x":9,"y":0,"v":110}],
"b6":[{"x":0,"y":9,"v":98},{"x":1,"y":9,"v":99},{"x":2,"y":9,"v":94},{"x":3,"y":9,"v":97},{"x":4,"y":9,"v":99},{"x":5,"y":9,"v":99},{"x":6,"y":9,"v":98},{"x":7,"y":9,"v":97},{"x":8,"y":9,"v":97},{"x":9,"y":9,"v":93},{"x":0,"y":8,"v":100},{"x":1,"y":8,"v":96},{"x":2,"y":8,"v":93},{"x":3,"y":8,"v":100},{"x":4,"y":8,"v":100},{"x":5,"y":8,"v":100},{"x":6,"y":8,"v":98},{"x":7,"y":8,"v":98},{"x":8,"y":8,"v":96},{"x":9,"y":8,"v":96},{"x":0,"y":7,"v":100},{"x":1,"y":7,"v":95},{"x":2,"y":7,"v":91},{"x":3,"y":7,"v":94},{"x":4,"y":7,"v":98},{"x":5,"y":7,"v":98},{"x":6,"y":7,"v":97},{"x":7,"y":7,"v":98},{"x":8,"y":7,"v":97},{"x":9,"y":7,"v":97},{"x":0,"y":6,"v":100},{"x":1,"y":6,"v":96},{"x":2,"y":6,"v":91},{"x":3,"y":6,"v":96},{"x":4,"y":6,"v":95},{"x":5,"y":6,"v":100},{"x":6,"y":6,"v":98},{"x":7,"y":6,"v":98},{"x":8,"y":6,"v":98},{"x":9,"y":6,"v":98},{"x":0,"y":5,"v":100},{"x":1,"y":5,"v":97},{"x":2,"y":5,"v":85},{"x":3,"y":5,"v":93},{"x":4,"y":5,"v":96},{"x":5,"y":5,"v":99},{"x":6,"y":5,"v":98},{"x":7,"y":5,"v":98},{"x":8,"y":5,"v":97},{"x":9,"y":5,"v":97},{"x":0,"y":4,"v":100},{"x":1,"y":4,"v":95},{"x":2,"y":4,"v":95},{"x":3,"y":4,"v":97},{"x":4,"y":4,"v":96},{"x":5,"y":4,"v":100},{"x":6,"y":4,"v":99},{"x":7,"y":4,"v":98},{"x":8,"y":4,"v":98},{"x":9,"y":4,"v":98},{"x":0,"y":3,"v":100},{"x":1,"y":3,"v":96},{"x":2,"y":3,"v":96},{"x":3,"y":3,"v":98},{"x":4,"y":3,"v":95},{"x":5,"y":3,"v":100},{"x":6,"y":3,"v":100},{"x":7,"y":3,"v":98},{"x":8,"y":3,"v":100},{"x":9,"y":3,"v":100},{"x":0,"y":2,"v":97},{"x":1,"y":2,"v":97},{"x":2,"y":2,"v":99},{"x":3,"y":2,"v":98},{"x":4,"y":2,"v":95},{"x":5,"y":2,"v":94},{"x":6,"y":2,"v":97},{"x":7,"y":2,"v":99},{"x":8,"y":2,"v":98},{"x":9,"y":2,"v":99},{"x":0,"y":1,"v":96},{"x":1,"y":1,"v":97},{"x":2,"y":1,"v":90},{"x":3,"y":1,"v":87},{"x":4,"y":1,"v":90},{"x":5,"y":1,"v":99},{"x":6,"y":1,"v":99},{"x":7,"y":1,"v":98},{"x":8,"y":1,"v":97},{"x":9,"y":1,"v":98},{"x":0,"y":0,"v":76},{"x":1,"y":0,"v":110},{"x":2,"y":0,"v":35},{"x":3,"y":0,"v":71},{"x":4,"y":0,"v":110},{"x":5,"y":0,"v":78},{"x":6,"y":0,"v":78},{"x":7,"y":0,"v":92},{"x":8,"y":0,"v":97},{"x":9,"y":0,"v":90}],
"c1":[{"x":0,"y":9,"v":40},{"x":1,"y":9,"v":40},{"x":2,"y":9,"v":39},{"x":3,"y":9,"v":39},{"x":4,"y":9,"v":39},{"x":5,"y":9,"v":40},{"x":6,"y":9,"v":40},{"x":7,"y":9,"v":40},{"x":8,"y":9,"v":40},{"x":9,"y":9,"v":40},{"x":0,"y":8,"v":40},{"x":1,"y":8,"v":40},{"x":2,"y":8,"v":39},{"x":3,"y":8,"v":39},{"x":4,"y":8,"v":40},{"x":5,"y":8,"v":40},{"x":6,"y":8,"v":40},{"x":7,"y":8,"v":40},{"x":8,"y":8,"v":39},{"x":9,"y":8,"v":40},{"x":0,"y":7,"v":39},{"x":1,"y":7,"v":40},{"x":2,"y":7,"v":40},{"x":3,"y":7,"v":40},{"x":4,"y":7,"v":40},{"x":5,"y":7,"v":40},{"x":6,"y":7,"v":40},{"x":7,"y":7,"v":40},{"x":8,"y":7,"v":40},{"x":9,"y":7,"v":40},{"x":0,"y":6,"v":39},{"x":1,"y":6,"v":40},{"x":2,"y":6,"v":40},{"x":3,"y":6,"v":40},{"x":4,"y":6,"v":40},{"x":5,"y":6,"v":40},{"x":6,"y":6,"v":40},{"x":7,"y":6,"v":40},{"x":8,"y":6,"v":40},{"x":9,"y":6,"v":39},{"x":0,"y":5,"v":40},{"x":1,"y":5,"v":40},{"x":2,"y":5,"v":40},{"x":3,"y":5,"v":40},{"x":4,"y":5,"v":40},{"x":5,"y":5,"v":40},{"x":6,"y":5,"v":40},{"x":7,"y":5,"v":40},{"x":8,"y":5,"v":40},{"x":9,"y":5,"v":40},{"x":0,"y":4,"v":40},{"x":1,"y":4,"v":40},{"x":2,"y":4,"v":40},{"x":3,"y":4,"v":41},{"x":4,"y":4,"v":40},{"x":5,"y":4,"v":42},{"x":6,"y":4,"v":40},{"x":7,"y":4,"v":42},{"x":8,"y":4,"v":40},{"x":9,"y":4,"v":40},{"x":0,"y":3,"v":40},{"x":1,"y":3,"v":42},{"x":2,"y":3,"v":40},{"x":3,"y":3,"v":41},{"x":4,"y":3,"v":42},{"x":5,"y":3,"v":40},{"x":6,"y":3,"v":40},{"x":7,"y":3,"v":40},{"x":8,"y":3,"v":42},{"x":9,"y":3,"v":40},{"x":0,"y":2,"v":40},{"x":1,"y":2,"v":40},{"x":2,"y":2,"v":43},{"x":3,"y":2,"v":41},{"x":4,"y":2,"v":40},{"x":5,"y":2,"v":40},{"x":6,"y":2,"v":41},{"x":7,"y":2,"v":41},{"x":8,"y":2,"v":40},{"x":9,"y":2,"v":40},{"x":0,"y":1,"v":43},{"x":1,"y":1,"v":44},{"x":2,"y":1,"v":43},{"x":3,"y":1,"v":45},{"x":4,"y":1,"v":44},{"x":5,"y":1,"v":43},{"x":6,"y":1,"v":42},{"x":7,"y":1,"v":42},{"x":8,"y":1,"v":41},{"x":9,"y":1,"v":44},{"x":0,"y":0,"v":98},{"x":1,"y":0,"v":98},{"x":2,"y":0,"v":98},{"x":3,"y":0,"v":97},{"x":4,"y":0,"v":96},{"x":5,"y":0,"v":96},{"x":6,"y":0,"v":95},{"x":7,"y":0,"v":94},{"x":8,"y":0,"v":93},{"x":9,"y":0,"v":92}],
"c2":[{"x":0,"y":9,"v":40},{"x":1,"y":9,"v":40},{"x":2,"y":9,"v":40},{"x":3,"y":9,"v":40},{"x":4,"y":9,"v":40},{"x":5,"y":9,"v":40},{"x":6,"y":9,"v":40},{"x":7,"y":9,"v":40},{"x":8,"y":9,"v":40},{"x":9,"y":9,"v":40},{"x":0,"y":8,"v":40},{"x":1,"y":8,"v":40},{"x":2,"y":8,"v":40},{"x":3,"y":8,"v":40},{"x":4,"y":8,"v":40},{"x":5,"y":8,"v":40},{"x":6,"y":8,"v":40},{"x":7,"y":8,"v":40},{"x":8,"y":8,"v":39},{"x":9,"y":8,"v":40},{"x":0,"y":7,"v":40},{"x":1,"y":7,"v":41},{"x":2,"y":7,"v":40},{"x":3,"y":7,"v":40},{"x":4,"y":7,"v":40},{"x":5,"y":7,"v":40},{"x":6,"y":7,"v":40},{"x":7,"y":7,"v":40},{"x":8,"y":7,"v":40},{"x":9,"y":7,"v":40},{"x":0,"y":6,"v":40},{"x":1,"y":6,"v":41},{"x":2,"y":6,"v":40},{"x":3,"y":6,"v":40},{"x":4,"y":6,"v":40},{"x":5,"y":6,"v":40},{"x":6,"y":6,"v":40},{"x":7,"y":6,"v":40},{"x":8,"y":6,"v":40},{"x":9,"y":6,"v":42},{"x":0,"y":5,"v":40},{"x":1,"y":5,"v":40},{"x":2,"y":5,"v":40},{"x":3,"y":5,"v":40},{"x":4,"y":5,"v":40},{"x":5,"y":5,"v":40},{"x":6,"y":5,"v":40},{"x":7,"y":5,"v":40},{"x":8,"y":5,"v":40},{"x":9,"y":5,"v":40},{"x":0,"y":4,"v":40},{"x":1,"y":4,"v":40},{"x":2,"y":4,"v":40},{"x":3,"y":4,"v":42},{"x":4,"y":4,"v":40},{"x":5,"y":4,"v":42},{"x":6,"y":4,"v":40},{"x":7,"y":4,"v":43},{"x":8,"y":4,"v":40},{"x":9,"y":4,"v":40},{"x":0,"y":3,"v":40},{"x":1,"y":3,"v":42},{"x":2,"y":3,"v":40},{"x":3,"y":3,"v":41},{"x":4,"y":3,"v":42},{"x":5,"y":3,"v":40},{"x":6,"y":3,"v":40},{"x":7,"y":3,"v":40},{"x":8,"y":3,"v":42},{"x":9,"y":3,"v":40},{"x":0,"y":2,"v":41},{"x":1,"y":2,"v":41},{"x":2,"y":2,"v":44},{"x":3,"y":2,"v":41},{"x":4,"y":2,"v":40},{"x":5,"y":2,"v":40},{"x":6,"y":2,"v":41},{"x":7,"y":2,"v":41},{"x":8,"y":2,"v":40},{"x":9,"y":2,"v":40},{"x":0,"y":1,"v":43},{"x":1,"y":1,"v":45},{"x":2,"y":1,"v":42},{"x":3,"y":1,"v":46},{"x":4,"y":1,"v":45},{"x":5,"y":1,"v":43},{"x":6,"y":1,"v":43},{"x":7,"y":1,"v":43},{"x":8,"y":1,"v":41},{"x":9,"y":1,"v":44},{"x":0,"y":0,"v":98},{"x":1,"y":0,"v":98},{"x":2,"y":0,"v":98},{"x":3,"y":0,"v":97},{"x":4,"y":0,"v":96},{"x":5,"y":0,"v":96},{"x":6,"y":0,"v":95},{"x":7,"y":0,"v":94},{"x":8,"y":0,"v":93},{"x":9,"y":0,"v":92}],
"c3":[{"x":0,"y":9,"v":22},{"x":1,"y":9,"v":18},{"x":2,"y":9,"v":17},{"x":3,"y":9,"v":17},{"x":4,"y":9,"v":19},{"x":5,"y":9,"v":16},{"x":6,"y":9,"v":16},{"x":7,"y":9,"v":15},{"x":8,"y":9,"v":15},{"x":9,"y":9,"v":13},{"x":0,"y":8,"v":19},{"x":1,"y":8,"v":18},{"x":2,"y":8,"v":17},{"x":3,"y":8,"v":17},{"x":4,"y":8,"v":18},{"x":5,"y":8,"v":16},{"x":6,"y":8,"v":16},{"x":7,"y":8,"v":16},{"x":8,"y":8,"v":15},{"x":9,"y":8,"v":15},{"x":0,"y":7,"v":19},{"x":1,"y":7,"v":18},{"x":2,"y":7,"v":21},{"x":3,"y":7,"v":15},{"x":4,"y":7,"v":17},{"x":5,"y":7,"v":16},{"x":6,"y":7,"v":16},{"x":7,"y":7,"v":16},{"x":8,"y":7,"v":15},{"x":9,"y":7,"v":15},{"x":0,"y":6,"v":18},{"x":1,"y":6,"v":19},{"x":2,"y":6,"v":17},{"x":3,"y":6,"v":15},{"x":4,"y":6,"v":17},{"x":5,"y":6,"v":16},{"x":6,"y":6,"v":16},{"x":7,"y":6,"v":15},{"x":8,"y":6,"v":15},{"x":9,"y":6,"v":14},{"x":0,"y":5,"v":18},{"x":1,"y":5,"v":20},{"x":2,"y":5,"v":18},{"x":3,"y":5,"v":17},{"x":4,"y":5,"v":16},{"x":5,"y":5,"v":16},{"x":6,"y":5,"v":17},{"x":7,"y":5,"v":15},{"x":8,"y":5,"v":15},{"x":9,"y":5,"v":15},{"x":0,"y":4,"v":17},{"x":1,"y":4,"v":17},{"x":2,"y":4,"v":17},{"x":3,"y":4,"v":17},{"x":4,"y":4,"v":14},{"x":5,"y":4,"v":15},{"x":6,"y":4,"v":15},{"x":7,"y":4,"v":18},{"x":8,"y":4,"v":15},{"x":9,"y":4,"v":13},{"x":0,"y":3,"v":19},{"x":1,"y":3,"v":20},{"x":2,"y":3,"v":17},{"x":3,"y":3,"v":17},{"x":4,"y":3,"v":22},{"x":5,"y":3,"v":16},{"x":6,"y":3,"v":15},{"x":7,"y":3,"v":15},{"x":8,"y":3,"v":18},{"x":9,"y":3,"v":14},{"x":0,"y":2,"v":20},{"x":1,"y":2,"v":19},{"x":2,"y":2,"v":22},{"x":3,"y":2,"v":17},{"x":4,"y":2,"v":15},{"x":5,"y":2,"v":15},{"x":6,"y":2,"v":15},{"x":7,"y":2,"v":13},{"x":8,"y":2,"v":15},{"x":9,"y":2,"v":15},{"x":0,"y":1,"v":22},{"x":1,"y":1,"v":28},{"x":2,"y":1,"v":22},{"x":3,"y":1,"v":22},{"x":4,"y":1,"v":24},{"x":5,"y":1,"v":23},{"x":6,"y":1,"v":17},{"x":7,"y":1,"v":18},{"x":8,"y":1,"v":17},{"x":9,"y":1,"v":20},{"x":0,"y":0,"v":68},{"x":1,"y":0,"v":62},{"x":2,"y":0,"v":60},{"x":3,"y":0,"v":58},{"x":4,"y":0,"v":57},{"x":5,"y":0,"v":55},{"x":6,"y":0,"v":54},{"x":7,"y":0,"v":53},{"x":8,"y":0,"v":50},{"x":9,"y":0,"v":48}],
"c4":[{"x":0,"y":9,"v":6},{"x":1,"y":9,"v":6},{"x":2,"y":9,"v":6},{"x":3,"y":9,"v":5},{"x":4,"y":9,"v":5},{"x":5,"y":9,"v":5},{"x":6,"y":9,"v":5},{"x":7,"y":9,"v":5},{"x":8,"y":9,"v":6},{"x":9,"y":9,"v":6},{"x":0,"y":8,"v":6},{"x":1,"y":8,"v":6},{"x":2,"y":8,"v":5},{"x":3,"y":8,"v":5},{"x":4,"y":8,"v":5},{"x":5,"y":8,"v":5},{"x":6,"y":8,"v":5},{"x":7,"y":8,"v":5},{"x":8,"y":8,"v":5},{"x":9,"y":8,"v":5},{"x":0,"y":7,"v":6},{"x":1,"y":7,"v":6},{"x":2,"y":7,"v":5},{"x":3,"y":7,"v":5},{"x":4,"y":7,"v":5},{"x":5,"y":7,"v":5},{"x":6,"y":7,"v":5},{"x":7,"y":7,"v":5},{"x":8,"y":7,"v":5},{"x":9,"y":7,"v":5},{"x":0,"y":6,"v":6},{"x":1,"y":6,"v":6},{"x":2,"y":6,"v":5},{"x":3,"y":6,"v":5},{"x":4,"y":6,"v":5},{"x":5,"y":6,"v":5},{"x":6,"y":6,"v":5},{"x":7,"y":6,"v":5},{"x":8,"y":6,"v":5},{"x":9,"y":6,"v":5},{"x":0,"y":5,"v":6},{"x":1,"y":5,"v":6},{"x":2,"y":5,"v":5},{"x":3,"y":5,"v":5},{"x":4,"y":5,"v":5},{"x":5,"y":5,"v":5},{"x":6,"y":5,"v":5},{"x":7,"y":5,"v":5},{"x":8,"y":5,"v":5},{"x":9,"y":5,"v":5},{"x":0,"y":4,"v":6},{"x":1,"y":4,"v":6},{"x":2,"y":4,"v":5},{"x":3,"y":4,"v":5},{"x":4,"y":4,"v":5},{"x":5,"y":4,"v":5},{"x":6,"y":4,"v":5},{"x":7,"y":4,"v":5},{"x":8,"y":4,"v":5},{"x":9,"y":4,"v":5},{"x":0,"y":3,"v":6},{"x":1,"y":3,"v":6},{"x":2,"y":3,"v":5},{"x":3,"y":3,"v":5},{"x":4,"y":3,"v":5},{"x":5,"y":3,"v":5},{"x":6,"y":3,"v":5},{"x":7,"y":3,"v":5},{"x":8,"y":3,"v":5},{"x":9,"y":3,"v":5},{"x":0,"y":2,"v":6},{"x":1,"y":2,"v":6},{"x":2,"y":2,"v":5},{"x":3,"y":2,"v":5},{"x":4,"y":2,"v":5},{"x":5,"y":2,"v":5},{"x":6,"y":2,"v":5},{"x":7,"y":2,"v":5},{"x":8,"y":2,"v":5},{"x":9,"y":2,"v":5},{"x":0,"y":1,"v":6},{"x":1,"y":1,"v":7},{"x":2,"y":1,"v":6},{"x":3,"y":1,"v":5},{"x":4,"y":1,"v":5},{"x":5,"y":1,"v":5},{"x":6,"y":1,"v":5},{"x":7,"y":1,"v":5},{"x":8,"y":1,"v":5},{"x":9,"y":1,"v":5},{"x":0,"y":0,"v":70},{"x":1,"y":0,"v":68},{"x":2,"y":0,"v":68},{"x":3,"y":0,"v":70},{"x":4,"y":0,"v":64},{"x":5,"y":0,"v":63},{"x":6,"y":0,"v":60},{"x":7,"y":0,"v":58},{"x":8,"y":0,"v":57},{"x":9,"y":0,"v":55}],
"d1":[{"x":0,"y":9,"v":15},{"x":1,"y":9,"v":19},{"x":2,"y":9,"v":10},{"x":3,"y":9,"v":12},{"x":4,"y":9,"v":20},{"x":5,"y":9,"v":11},{"x":6,"y":9,"v":7},{"x":7,"y":9,"v":10},{"x":8,"y":9,"v":11},{"x":9,"y":9,"v":11},{"x":0,"y":8,"v":16},{"x":1,"y":8,"v":22},{"x":2,"y":8,"v":13},{"x":3,"y":8,"v":10},{"x":4,"y":8,"v":15},{"x":5,"y":8,"v":12},{"x":6,"y":8,"v":20},{"x":7,"y":8,"v":12},{"x":8,"y":8,"v":4},{"x":9,"y":8,"v":9},{"x":0,"y":7,"v":21},{"x":1,"y":7,"v":16},{"x":2,"y":7,"v":24},{"x":3,"y":7,"v":17},{"x":4,"y":7,"v":11},{"x":5,"y":7,"v":15},{"x":6,"y":7,"v":15},{"x":7,"y":7,"v":20},{"x":8,"y":7,"v":9},{"x":9,"y":7,"v":12},{"x":0,"y":6,"v":23},{"x":1,"y":6,"v":16},{"x":2,"y":6,"v":20},{"x":3,"y":6,"v":21},{"x":4,"y":6,"v":12},{"x":5,"y":6,"v":26},{"x":6,"y":6,"v":14},{"x":7,"y":6,"v":17},{"x":8,"y":6,"v":11},{"x":9,"y":6,"v":11},{"x":0,"y":5,"v":30},{"x":1,"y":5,"v":22},{"x":2,"y":5,"v":22},{"x":3,"y":5,"v":20},{"x":4,"y":5,"v":25},{"x":5,"y":5,"v":26},{"x":6,"y":5,"v":16},{"x":7,"y":5,"v":21},{"x":8,"y":5,"v":17},{"x":9,"y":5,"v":26},{"x":0,"y":4,"v":31},{"x":1,"y":4,"v":33},{"x":2,"y":4,"v":41},{"x":3,"y":4,"v":36},{"x":4,"y":4,"v":37},{"x":5,"y":4,"v":41},{"x":6,"y":4,"v":32},{"x":7,"y":4,"v":33},{"x":8,"y":4,"v":26},{"x":9,"y":4,"v":27},{"x":0,"y":3,"v":46},{"x":1,"y":3,"v":43},{"x":2,"y":3,"v":37},{"x":3,"y":3,"v":40},{"x":4,"y":3,"v":36},{"x":5,"y":3,"v":36},{"x":6,"y":3,"v":40},{"x":7,"y":3,"v":32},{"x":8,"y":3,"v":41},{"x":9,"y":3,"v":35},{"x":0,"y":2,"v":51},{"x":1,"y":2,"v":42},{"x":2,"y":2,"v":57},{"x":3,"y":2,"v":47},{"x":4,"y":2,"v":47},{"x":5,"y":2,"v":54},{"x":6,"y":2,"v":50},{"x":7,"y":2,"v":46},{"x":8,"y":2,"v":42},{"x":9,"y":2,"v":46},{"x":0,"y":1,"v":70},{"x":1,"y":1,"v":72},{"x":2,"y":1,"v":71},{"x":3,"y":1,"v":70},{"x":4,"y":1,"v":70},{"x":5,"y":1,"v":62},{"x":6,"y":1,"v":61},{"x":7,"y":1,"v":56},{"x":8,"y":1,"v":53},{"x":9,"y":1,"v":58},{"x":0,"y":0,"v":100},{"x":1,"y":0,"v":96},{"x":2,"y":0,"v":100},{"x":3,"y":0,"v":92},{"x":4,"y":0,"v":90},{"x":5,"y":0,"v":88},{"x":6,"y":0,"v":86},{"x":7,"y":0,"v":84},{"x":8,"y":0,"v":82},{"x":9,"y":0,"v":80}],
"d2":[{"x":0,"y":9,"v":78},{"x":1,"y":9,"v":88},{"x":2,"y":9,"v":76},{"x":3,"y":9,"v":70},{"x":4,"y":9,"v":82},{"x":5,"y":9,"v":78},{"x":6,"y":9,"v":71},{"x":7,"y":9,"v":78},{"x":8,"y":9,"v":74},{"x":9,"y":9,"v":74},{"x":0,"y":8,"v":75},{"x":1,"y":8,"v":84},{"x":2,"y":8,"v":88},{"x":3,"y":8,"v":83},{"x":4,"y":8,"v":82},{"x":5,"y":8,"v":74},{"x":6,"y":8,"v":76},{"x":7,"y":8,"v":80},{"x":8,"y":8,"v":90},{"x":9,"y":8,"v":75},{"x":0,"y":7,"v":82},{"x":1,"y":7,"v":80},{"x":2,"y":7,"v":84},{"x":3,"y":7,"v":73},{"x":4,"y":7,"v":75},{"x":5,"y":7,"v":73},{"x":6,"y":7,"v":80},{"x":7,"y":7,"v":70},{"x":8,"y":7,"v":70},{"x":9,"y":7,"v":70},{"x":0,"y":6,"v":85},{"x":1,"y":6,"v":83},{"x":2,"y":6,"v":80},{"x":3,"y":6,"v":90},{"x":4,"y":6,"v":74},{"x":5,"y":6,"v":77},{"x":6,"y":6,"v":90},{"x":7,"y":6,"v":80},{"x":8,"y":6,"v":71},{"x":9,"y":6,"v":76},{"x":0,"y":5,"v":88},{"x":1,"y":5,"v":95},{"x":2,"y":5,"v":80},{"x":3,"y":5,"v":83},{"x":4,"y":5,"v":80},{"x":5,"y":5,"v":86},{"x":6,"y":5,"v":76},{"x":7,"y":5,"v":74},{"x":8,"y":5,"v":76},{"x":9,"y":5,"v":75},{"x":0,"y":4,"v":88},{"x":1,"y":4,"v":82},{"x":2,"y":4,"v":85},{"x":3,"y":4,"v":86},{"x":4,"y":4,"v":90},{"x":5,"y":4,"v":84},{"x":6,"y":4,"v":80},{"x":7,"y":4,"v":82},{"x":8,"y":4,"v":76},{"x":9,"y":4,"v":75},{"x":0,"y":3,"v":90},{"x":1,"y":3,"v":92},{"x":2,"y":3,"v":84},{"x":3,"y":3,"v":83},{"x":4,"y":3,"v":78},{"x":5,"y":3,"v":82},{"x":6,"y":3,"v":90},{"x":7,"y":3,"v":80},{"x":8,"y":3,"v":84},{"x":9,"y":3,"v":79},{"x":0,"y":2,"v":97},{"x":1,"y":2,"v":90},{"x":2,"y":2,"v":91},{"x":3,"y":2,"v":91},{"x":4,"y":2,"v":90},{"x":5,"y":2,"v":89},{"x":6,"y":2,"v":89},{"x":7,"y":2,"v":85},{"x":8,"y":2,"v":85},{"x":9,"y":2,"v":83},{"x":0,"y":1,"v":100},{"x":1,"y":1,"v":96},{"x":2,"y":1,"v":96},{"x":3,"y":1,"v":94},{"x":4,"y":1,"v":97},{"x":5,"y":1,"v":95},{"x":6,"y":1,"v":93},{"x":7,"y":1,"v":90},{"x":8,"y":1,"v":88},{"x":9,"y":1,"v":88},{"x":0,"y":0,"v":108},{"x":1,"y":0,"v":100},{"x":2,"y":0,"v":100},{"x":3,"y":0,"v":98},{"x":4,"y":0,"v":98},{"x":5,"y":0,"v":96},{"x":6,"y":0,"v":96},{"x":7,"y":0,"v":94},{"x":8,"y":0,"v":89},{"x":9,"y":0,"v":87}],
"d3":[{"x":0,"y":9,"v":17},{"x":1,"y":9,"v":21},{"x":2,"y":9,"v":12},{"x":3,"y":9,"v":13},{"x":4,"y":9,"v":18},{"x":5,"y":9,"v":12},{"x":6,"y":9,"v":9},{"x":7,"y":9,"v":11},{"x":8,"y":9,"v":11},{"x":9,"y":9,"v":11},{"x":0,"y":8,"v":17},{"x":1,"y":8,"v":25},{"x":2,"y":8,"v":16},{"x":3,"y":8,"v":12},{"x":4,"y":8,"v":15},{"x":5,"y":8,"v":12},{"x":6,"y":8,"v":21},{"x":7,"y":8,"v":14},{"x":8,"y":8,"v":5},{"x":9,"y":8,"v":9},{"x":0,"y":7,"v":21},{"x":1,"y":7,"v":15},{"x":2,"y":7,"v":25},{"x":3,"y":7,"v":17},{"x":4,"y":7,"v":11},{"x":5,"y":7,"v":14},{"x":6,"y":7,"v":15},{"x":7,"y":7,"v":20},{"x":8,"y":7,"v":9},{"x":9,"y":7,"v":12},{"x":0,"y":6,"v":23},{"x":1,"y":6,"v":14},{"x":2,"y":6,"v":18},{"x":3,"y":6,"v":21},{"x":4,"y":6,"v":11},{"x":5,"y":6,"v":26},{"x":6,"y":6,"v":14},{"x":7,"y":6,"v":14},{"x":8,"y":6,"v":10},{"x":9,"y":6,"v":11},{"x":0,"y":5,"v":30},{"x":1,"y":5,"v":22},{"x":2,"y":5,"v":22},{"x":3,"y":5,"v":18},{"x":4,"y":5,"v":22},{"x":5,"y":5,"v":26},{"x":6,"y":5,"v":13},{"x":7,"y":5,"v":18},{"x":8,"y":5,"v":14},{"x":9,"y":5,"v":21},{"x":0,"y":4,"v":28},{"x":1,"y":4,"v":31},{"x":2,"y":4,"v":37},{"x":3,"y":4,"v":33},{"x":4,"y":4,"v":32},{"x":5,"y":4,"v":37},{"x":6,"y":4,"v":26},{"x":7,"y":4,"v":31},{"x":8,"y":4,"v":23},{"x":9,"y":4,"v":21},{"x":0,"y":3,"v":42},{"x":1,"y":3,"v":40},{"x":2,"y":3,"v":31},{"x":3,"y":3,"v":36},{"x":4,"y":3,"v":31},{"x":5,"y":3,"v":33},{"x":6,"y":3,"v":36},{"x":7,"y":3,"v":27},{"x":8,"y":3,"v":37},{"x":9,"y":3,"v":30},{"x":0,"y":2,"v":46},{"x":1,"y":2,"v":38},{"x":2,"y":2,"v":47},{"x":3,"y":2,"v":42},{"x":4,"y":2,"v":42},{"x":5,"y":2,"v":44},{"x":6,"y":2,"v":41},{"x":7,"y":2,"v":41},{"x":8,"y":2,"v":36},{"x":9,"y":2,"v":38},{"x":0,"y":1,"v":54},{"x":1,"y":1,"v":54},{"x":2,"y":1,"v":50},{"x":3,"y":1,"v":49},{"x":4,"y":1,"v":48},{"x":5,"y":1,"v":46},{"x":6,"y":1,"v":45},{"x":7,"y":1,"v":43},{"x":8,"y":1,"v":43},{"x":9,"y":1,"v":43},{"x":0,"y":0,"v":72},{"x":1,"y":0,"v":70},{"x":2,"y":0,"v":70},{"x":3,"y":0,"v":67},{"x":4,"y":0,"v":69},{"x":5,"y":0,"v":68},{"x":6,"y":0,"v":62},{"x":7,"y":0,"v":57},{"x":8,"y":0,"v":55},{"x":9,"y":0,"v":53}],
"d4":[{"x":0,"y":9,"v":40},{"x":1,"y":9,"v":40},{"x":2,"y":9,"v":45},{"x":3,"y":9,"v":32},{"x":4,"y":9,"v":42},{"x":5,"y":9,"v":40},{"x":6,"y":9,"v":40},{"x":7,"y":9,"v":40},{"x":8,"y":9,"v":35},{"x":9,"y":9,"v":38},{"x":0,"y":8,"v":31},{"x":1,"y":8,"v":34},{"x":2,"y":8,"v":50},{"x":3,"y":8,"v":49},{"x":4,"y":8,"v":46},{"x":5,"y":8,"v":40},{"x":6,"y":8,"v":38},{"x":7,"y":8,"v":42},{"x":8,"y":8,"v":60},{"x":9,"y":8,"v":35},{"x":0,"y":7,"v":38},{"x":1,"y":7,"v":36},{"x":2,"y":7,"v":43},{"x":3,"y":7,"v":45},{"x":4,"y":7,"v":32},{"x":5,"y":7,"v":36},{"x":6,"y":7,"v":43},{"x":7,"y":7,"v":24},{"x":8,"y":7,"v":35},{"x":9,"y":7,"v":36},{"x":0,"y":6,"v":33},{"x":1,"y":6,"v":37},{"x":2,"y":6,"v":37},{"x":3,"y":6,"v":40},{"x":4,"y":6,"v":35},{"x":5,"y":6,"v":32},{"x":6,"y":6,"v":45},{"x":7,"y":6,"v":42},{"x":8,"y":6,"v":32},{"x":9,"y":6,"v":40},{"x":0,"y":5,"v":42},{"x":1,"y":5,"v":47},{"x":2,"y":5,"v":40},{"x":3,"y":5,"v":38},{"x":4,"y":5,"v":40},{"x":5,"y":5,"v":43},{"x":6,"y":5,"v":35},{"x":7,"y":5,"v":29},{"x":8,"y":5,"v":38},{"x":9,"y":5,"v":30},{"x":0,"y":4,"v":41},{"x":1,"y":4,"v":41},{"x":2,"y":4,"v":46},{"x":3,"y":4,"v":49},{"x":4,"y":4,"v":45},{"x":5,"y":4,"v":40},{"x":6,"y":4,"v":40},{"x":7,"y":4,"v":42},{"x":8,"y":4,"v":38},{"x":9,"y":4,"v":36},{"x":0,"y":3,"v":47},{"x":1,"y":3,"v":47},{"x":2,"y":3,"v":45},{"x":3,"y":3,"v":45},{"x":4,"y":3,"v":42},{"x":5,"y":3,"v":45},{"x":6,"y":3,"v":45},{"x":7,"y":3,"v":40},{"x":8,"y":3,"v":42},{"x":9,"y":3,"v":40},{"x":0,"y":2,"v":55},{"x":1,"y":2,"v":53},{"x":2,"y":2,"v":56},{"x":3,"y":2,"v":51},{"x":4,"y":2,"v":50},{"x":5,"y":2,"v":49},{"x":6,"y":2,"v":46},{"x":7,"y":2,"v":43},{"x":8,"y":2,"v":42},{"x":9,"y":2,"v":41},{"x":0,"y":1,"v":60},{"x":1,"y":1,"v":61},{"x":2,"y":1,"v":58},{"x":3,"y":1,"v":55},{"x":4,"y":1,"v":55},{"x":5,"y":1,"v":51},{"x":6,"y":1,"v":48},{"x":7,"y":1,"v":44},{"x":8,"y":1,"v":42},{"x":9,"y":1,"v":41},{"x":0,"y":0,"v":69},{"x":1,"y":0,"v":70},{"x":2,"y":0,"v":68},{"x":3,"y":0,"v":63},{"x":4,"y":0,"v":57},{"x":5,"y":0,"v":53},{"x":6,"y":0,"v":48},{"x":7,"y":0,"v":45},{"x":8,"y":0,"v":42},{"x":9,"y":0,"v":41}],
"d5":[{"x":0,"y":9,"v":46},{"x":1,"y":9,"v":44},{"x":2,"y":9,"v":42},{"x":3,"y":9,"v":42},{"x":4,"y":9,"v":45},{"x":5,"y":9,"v":42},{"x":6,"y":9,"v":42},{"x":7,"y":9,"v":38},{"x":8,"y":9,"v":42},{"x":9,"y":9,"v":44},{"x":0,"y":8,"v":44},{"x":1,"y":8,"v":46},{"x":2,"y":8,"v":40},{"x":3,"y":8,"v":43},{"x":4,"y":8,"v":40},{"x":5,"y":8,"v":43},{"x":6,"y":8,"v":49},{"x":7,"y":8,"v":48},{"x":8,"y":8,"v":35},{"x":9,"y":8,"v":41},{"x":0,"y":7,"v":45},{"x":1,"y":7,"v":47},{"x":2,"y":7,"v":52},{"x":3,"y":7,"v":50},{"x":4,"y":7,"v":42},{"x":5,"y":7,"v":49},{"x":6,"y":7,"v":51},{"x":7,"y":7,"v":51},{"x":8,"y":7,"v":41},{"x":9,"y":7,"v":40},{"x":0,"y":6,"v":57},{"x":1,"y":6,"v":55},{"x":2,"y":6,"v":51},{"x":3,"y":6,"v":48},{"x":4,"y":6,"v":42},{"x":5,"y":6,"v":49},{"x":6,"y":6,"v":41},{"x":7,"y":6,"v":44},{"x":8,"y":6,"v":47},{"x":9,"y":6,"v":43},{"x":0,"y":5,"v":49},{"x":1,"y":5,"v":47},{"x":2,"y":5,"v":48},{"x":3,"y":5,"v":52},{"x":4,"y":5,"v":46},{"x":5,"y":5,"v":42},{"x":6,"y":5,"v":42},{"x":7,"y":5,"v":44},{"x":8,"y":5,"v":51},{"x":9,"y":5,"v":49},{"x":0,"y":4,"v":49},{"x":1,"y":4,"v":57},{"x":2,"y":4,"v":58},{"x":3,"y":4,"v":62},{"x":4,"y":4,"v":62},{"x":5,"y":4,"v":69},{"x":6,"y":4,"v":51},{"x":7,"y":4,"v":60},{"x":8,"y":4,"v":63},{"x":9,"y":4,"v":56},{"x":0,"y":3,"v":70},{"x":1,"y":3,"v":68},{"x":2,"y":3,"v":60},{"x":3,"y":3,"v":69},{"x":4,"y":3,"v":67},{"x":5,"y":3,"v":65},{"x":6,"y":3,"v":70},{"x":7,"y":3,"v":56},{"x":8,"y":3,"v":68},{"x":9,"y":3,"v":67},{"x":0,"y":2,"v":70},{"x":1,"y":2,"v":57},{"x":2,"y":2,"v":76},{"x":3,"y":2,"v":69},{"x":4,"y":2,"v":68},{"x":5,"y":2,"v":77},{"x":6,"y":2,"v":72},{"x":7,"y":2,"v":68},{"x":8,"y":2,"v":67},{"x":9,"y":2,"v":66},{"x":0,"y":1,"v":80},{"x":1,"y":1,"v":86},{"x":2,"y":1,"v":85},{"x":3,"y":1,"v":84},{"x":4,"y":1,"v":86},{"x":5,"y":1,"v":82},{"x":6,"y":1,"v":80},{"x":7,"y":1,"v":78},{"x":8,"y":1,"v":75},{"x":9,"y":1,"v":74},{"x":0,"y":0,"v":110},{"x":1,"y":0,"v":105},{"x":2,"y":0,"v":103},{"x":3,"y":0,"v":100},{"x":4,"y":0,"v":100},{"x":5,"y":0,"v":96},{"x":6,"y":0,"v":94},{"x":7,"y":0,"v":93},{"x":8,"y":0,"v":93},{"x":9,"y":0,"v":92}],
"d6":[{"x":0,"y":9,"v":69},{"x":1,"y":9,"v":59},{"x":2,"y":9,"v":71},{"x":3,"y":9,"v":45},{"x":4,"y":9,"v":48},{"x":5,"y":9,"v":51},{"x":6,"y":9,"v":46},{"x":7,"y":9,"v":47},{"x":8,"y":9,"v":45},{"x":9,"y":9,"v":47},{"x":0,"y":8,"v":48},{"x":1,"y":8,"v":63},{"x":2,"y":8,"v":68},{"x":3,"y":8,"v":66},{"x":4,"y":8,"v":63},{"x":5,"y":8,"v":42},{"x":6,"y":8,"v":40},{"x":7,"y":8,"v":60},{"x":8,"y":8,"v":74},{"x":9,"y":8,"v":44},{"x":0,"y":7,"v":47},{"x":1,"y":7,"v":44},{"x":2,"y":7,"v":64},{"x":3,"y":7,"v":47},{"x":4,"y":7,"v":45},{"x":5,"y":7,"v":42},{"x":6,"y":7,"v":41},{"x":7,"y":7,"v":46},{"x":8,"y":7,"v":64},{"x":9,"y":7,"v":41},{"x":0,"y":6,"v":52},{"x":1,"y":6,"v":43},{"x":2,"y":6,"v":57},{"x":3,"y":6,"v":52},{"x":4,"y":6,"v":44},{"x":5,"y":6,"v":41},{"x":6,"y":6,"v":46},{"x":7,"y":6,"v":43},{"x":8,"y":6,"v":41},{"x":9,"y":6,"v":45},{"x":0,"y":5,"v":46},{"x":1,"y":5,"v":57},{"x":2,"y":5,"v":42},{"x":3,"y":5,"v":44},{"x":4,"y":5,"v":40},{"x":5,"y":5,"v":47},{"x":6,"y":5,"v":48},{"x":7,"y":5,"v":45},{"x":8,"y":5,"v":54},{"x":9,"y":5,"v":52},{"x":0,"y":4,"v":47},{"x":1,"y":4,"v":42},{"x":2,"y":4,"v":52},{"x":3,"y":4,"v":47},{"x":4,"y":4,"v":55},{"x":5,"y":4,"v":40},{"x":6,"y":4,"v":40},{"x":7,"y":4,"v":40},{"x":8,"y":4,"v":40},{"x":9,"y":4,"v":41},{"x":0,"y":3,"v":49},{"x":1,"y":3,"v":46},{"x":2,"y":3,"v":37},{"x":3,"y":3,"v":42},{"x":4,"y":3,"v":42},{"x":5,"y":3,"v":41},{"x":6,"y":3,"v":46},{"x":7,"y":3,"v":45},{"x":8,"y":3,"v":41},{"x":9,"y":3,"v":53},{"x":0,"y":2,"v":61},{"x":1,"y":2,"v":42},{"x":2,"y":2,"v":48},{"x":3,"y":2,"v":50},{"x":4,"y":2,"v":45},{"x":5,"y":2,"v":47},{"x":6,"y":2,"v":42},{"x":7,"y":2,"v":45},{"x":8,"y":2,"v":44},{"x":9,"y":2,"v":47},{"x":0,"y":1,"v":68},{"x":1,"y":1,"v":43},{"x":2,"y":1,"v":55},{"x":3,"y":1,"v":43},{"x":4,"y":1,"v":58},{"x":5,"y":1,"v":54},{"x":6,"y":1,"v":49},{"x":7,"y":1,"v":56},{"x":8,"y":1,"v":40},{"x":9,"y":1,"v":58},{"x":0,"y":0,"v":70},{"x":1,"y":0,"v":53},{"x":2,"y":0,"v":80},{"x":3,"y":0,"v":45},{"x":4,"y":0,"v":53},{"x":5,"y":0,"v":69},{"x":6,"y":0,"v":64},{"x":7,"y":0,"v":58},{"x":8,"y":0,"v":72},{"x":9,"y":0,"v":66}],
"e1":[{"x":0,"y":9,"v":70},{"x":1,"y":9,"v":69},{"x":2,"y":9,"v":68},{"x":3,"y":9,"v":78},{"x":4,"y":9,"v":69},{"x":5,"y":9,"v":69},{"x":6,"y":9,"v":69},{"x":7,"y":9,"v":69},{"x":8,"y":9,"v":73},{"x":9,"y":9,"v":73},{"x":0,"y":8,"v":69},{"x":1,"y":8,"v":76},{"x":2,"y":8,"v":71},{"x":3,"y":8,"v":72},{"x":4,"y":8,"v":69},{"x":5,"y":8,"v":69},{"x":6,"y":8,"v":63},{"x":7,"y":8,"v":69},{"x":8,"y":8,"v":71},{"x":9,"y":8,"v":71},{"x":0,"y":7,"v":84},{"x":1,"y":7,"v":74},{"x":2,"y":7,"v":80},{"x":3,"y":7,"v":74},{"x":4,"y":7,"v":73},{"x":5,"y":7,"v":82},{"x":6,"y":7,"v":75},{"x":7,"y":7,"v":75},{"x":8,"y":7,"v":68},{"x":9,"y":7,"v":72},{"x":0,"y":6,"v":82},{"x":1,"y":6,"v":77},{"x":2,"y":6,"v":78},{"x":3,"y":6,"v":88},{"x":4,"y":6,"v":75},{"x":5,"y":6,"v":75},{"x":6,"y":6,"v":72},{"x":7,"y":6,"v":78},{"x":8,"y":6,"v":78},{"x":9,"y":6,"v":75},{"x":0,"y":5,"v":83},{"x":1,"y":5,"v":82},{"x":2,"y":5,"v":81},{"x":3,"y":5,"v":81},{"x":4,"y":5,"v":83},{"x":5,"y":5,"v":83},{"x":6,"y":5,"v":82},{"x":7,"y":5,"v":73},{"x":8,"y":5,"v":80},{"x":9,"y":5,"v":78},{"x":0,"y":4,"v":88},{"x":1,"y":4,"v":88},{"x":2,"y":4,"v":79},{"x":3,"y":4,"v":80},{"x":4,"y":4,"v":86},{"x":5,"y":4,"v":86},{"x":6,"y":4,"v":86},{"x":7,"y":4,"v":77},{"x":8,"y":4,"v":85},{"x":9,"y":4,"v":83},{"x":0,"y":3,"v":95},{"x":1,"y":3,"v":90},{"x":2,"y":3,"v":97},{"x":3,"y":3,"v":94},{"x":4,"y":3,"v":92},{"x":5,"y":3,"v":94},{"x":6,"y":3,"v":87},{"x":7,"y":3,"v":90},{"x":8,"y":3,"v":88},{"x":9,"y":3,"v":85},{"x":0,"y":2,"v":94},{"x":1,"y":2,"v":97},{"x":2,"y":2,"v":95},{"x":3,"y":2,"v":98},{"x":4,"y":2,"v":92},{"x":5,"y":2,"v":92},{"x":6,"y":2,"v":92},{"x":7,"y":2,"v":94},{"x":8,"y":2,"v":91},{"x":9,"y":2,"v":87},{"x":0,"y":1,"v":100},{"x":1,"y":1,"v":100},{"x":2,"y":1,"v":97},{"x":3,"y":1,"v":97},{"x":4,"y":1,"v":96},{"x":5,"y":1,"v":95},{"x":6,"y":1,"v":96},{"x":7,"y":1,"v":96},{"x":8,"y":1,"v":94},{"x":9,"y":1,"v":91},{"x":0,"y":0,"v":92},{"x":1,"y":0,"v":100},{"x":2,"y":0,"v":100},{"x":3,"y":0,"v":98},{"x":4,"y":0,"v":96},{"x":5,"y":0,"v":96},{"x":6,"y":0,"v":96},{"x":7,"y":0,"v":97},{"x":8,"y":0,"v":90},{"x":9,"y":0,"v":92}],
"e2":[{"x":0,"y":9,"v":63},{"x":1,"y":9,"v":69},{"x":2,"y":9,"v":60},{"x":3,"y":9,"v":58},{"x":4,"y":9,"v":58},{"x":5,"y":9,"v":68},{"x":6,"y":9,"v":71},{"x":7,"y":9,"v":55},{"x":8,"y":9,"v":64},{"x":9,"y":9,"v":48},{"x":0,"y":8,"v":70},{"x":1,"y":8,"v":70},{"x":2,"y":8,"v":70},{"x":3,"y":8,"v":58},{"x":4,"y":8,"v":71},{"x":5,"y":8,"v":69},{"x":6,"y":8,"v":69},{"x":7,"y":8,"v":62},{"x":8,"y":8,"v":61},{"x":9,"y":8,"v":62},{"x":0,"y":7,"v":76},{"x":1,"y":7,"v":72},{"x":2,"y":7,"v":70},{"x":3,"y":7,"v":70},{"x":4,"y":7,"v":60},{"x":5,"y":7,"v":72},{"x":6,"y":7,"v":69},{"x":7,"y":7,"v":69},{"x":8,"y":7,"v":69},{"x":9,"y":7,"v":71},{"x":0,"y":6,"v":76},{"x":1,"y":6,"v":74},{"x":2,"y":6,"v":69},{"x":3,"y":6,"v":73},{"x":4,"y":6,"v":71},{"x":5,"y":6,"v":73},{"x":6,"y":6,"v":71},{"x":7,"y":6,"v":75},{"x":8,"y":6,"v":75},{"x":9,"y":6,"v":69},{"x":0,"y":5,"v":78},{"x":1,"y":5,"v":76},{"x":2,"y":5,"v":76},{"x":3,"y":5,"v":76},{"x":4,"y":5,"v":72},{"x":5,"y":5,"v":75},{"x":6,"y":5,"v":71},{"x":7,"y":5,"v":78},{"x":8,"y":5,"v":71},{"x":9,"y":5,"v":77},{"x":0,"y":4,"v":83},{"x":1,"y":4,"v":84},{"x":2,"y":4,"v":84},{"x":3,"y":4,"v":80},{"x":4,"y":4,"v":81},{"x":5,"y":4,"v":82},{"x":6,"y":4,"v":82},{"x":7,"y":4,"v":77},{"x":8,"y":4,"v":74},{"x":9,"y":4,"v":82},{"x":0,"y":3,"v":85},{"x":1,"y":3,"v":84},{"x":2,"y":3,"v":85},{"x":3,"y":3,"v":85},{"x":4,"y":3,"v":85},{"x":5,"y":3,"v":86},{"x":6,"y":3,"v":84},{"x":7,"y":3,"v":84},{"x":8,"y":3,"v":84},{"x":9,"y":3,"v":83},{"x":0,"y":2,"v":89},{"x":1,"y":2,"v":89},{"x":2,"y":2,"v":90},{"x":3,"y":2,"v":95},{"x":4,"y":2,"v":95},{"x":5,"y":2,"v":94},{"x":6,"y":2,"v":86},{"x":7,"y":2,"v":88},{"x":8,"y":2,"v":92},{"x":9,"y":2,"v":86},{"x":0,"y":1,"v":97},{"x":1,"y":1,"v":96},{"x":2,"y":1,"v":96},{"x":3,"y":1,"v":96},{"x":4,"y":1,"v":94},{"x":5,"y":1,"v":94},{"x":6,"y":1,"v":94},{"x":7,"y":1,"v":93},{"x":8,"y":1,"v":92},{"x":9,"y":1,"v":90},{"x":0,"y":0,"v":110},{"x":1,"y":0,"v":110},{"x":2,"y":0,"v":110},{"x":3,"y":0,"v":110},{"x":4,"y":0,"v":110},{"x":5,"y":0,"v":108},{"x":6,"y":0,"v":105},{"x":7,"y":0,"v":102},{"x":8,"y":0,"v":100},{"x":9,"y":0,"v":98}],
"e3":[{"x":0,"y":9,"v":59},{"x":1,"y":9,"v":63},{"x":2,"y":9,"v":57},{"x":3,"y":9,"v":69},{"x":4,"y":9,"v":54},{"x":5,"y":9,"v":54},{"x":6,"y":9,"v":54},{"x":7,"y":9,"v":54},{"x":8,"y":9,"v":59},{"x":9,"y":9,"v":53},{"x":0,"y":8,"v":71},{"x":1,"y":8,"v":70},{"x":2,"y":8,"v":70},{"x":3,"y":8,"v":70},{"x":4,"y":8,"v":63},{"x":5,"y":8,"v":62},{"x":6,"y":8,"v":54},{"x":7,"y":8,"v":54},{"x":8,"y":8,"v":56},{"x":9,"y":8,"v":54},{"x":0,"y":7,"v":74},{"x":1,"y":7,"v":70},{"x":2,"y":7,"v":70},{"x":3,"y":7,"v":68},{"x":4,"y":7,"v":58},{"x":5,"y":7,"v":69},{"x":6,"y":7,"v":57},{"x":7,"y":7,"v":63},{"x":8,"y":7,"v":54},{"x":9,"y":7,"v":59},{"x":0,"y":6,"v":76},{"x":1,"y":6,"v":74},{"x":2,"y":6,"v":74},{"x":3,"y":6,"v":76},{"x":4,"y":6,"v":69},{"x":5,"y":6,"v":69},{"x":6,"y":6,"v":60},{"x":7,"y":6,"v":70},{"x":8,"y":6,"v":70},{"x":9,"y":6,"v":62},{"x":0,"y":5,"v":74},{"x":1,"y":5,"v":74},{"x":2,"y":5,"v":72},{"x":3,"y":5,"v":71},{"x":4,"y":5,"v":69},{"x":5,"y":5,"v":70},{"x":6,"y":5,"v":70},{"x":7,"y":5,"v":70},{"x":8,"y":5,"v":69},{"x":9,"y":5,"v":69},{"x":0,"y":4,"v":74},{"x":1,"y":4,"v":76},{"x":2,"y":4,"v":70},{"x":3,"y":4,"v":68},{"x":4,"y":4,"v":71},{"x":5,"y":4,"v":71},{"x":6,"y":4,"v":71},{"x":7,"y":4,"v":69},{"x":8,"y":4,"v":69},{"x":9,"y":4,"v":68},{"x":0,"y":3,"v":82},{"x":1,"y":3,"v":79},{"x":2,"y":3,"v":80},{"x":3,"y":3,"v":80},{"x":4,"y":3,"v":74},{"x":5,"y":3,"v":76},{"x":6,"y":3,"v":72},{"x":7,"y":3,"v":71},{"x":8,"y":3,"v":70},{"x":9,"y":3,"v":70},{"x":0,"y":2,"v":80},{"x":1,"y":2,"v":82},{"x":2,"y":2,"v":80},{"x":3,"y":2,"v":80},{"x":4,"y":2,"v":75},{"x":5,"y":2,"v":74},{"x":6,"y":2,"v":72},{"x":7,"y":2,"v":71},{"x":8,"y":2,"v":70},{"x":9,"y":2,"v":69},{"x":0,"y":1,"v":86},{"x":1,"y":1,"v":84},{"x":2,"y":1,"v":84},{"x":3,"y":1,"v":80},{"x":4,"y":1,"v":77},{"x":5,"y":1,"v":77},{"x":6,"y":1,"v":73},{"x":7,"y":1,"v":72},{"x":8,"y":1,"v":70},{"x":9,"y":1,"v":69},{"x":0,"y":0,"v":78},{"x":1,"y":0,"v":86},{"x":2,"y":0,"v":85},{"x":3,"y":0,"v":83},{"x":4,"y":0,"v":78},{"x":5,"y":0,"v":76},{"x":6,"y":0,"v":74},{"x":7,"y":0,"v":72},{"x":8,"y":0,"v":70},{"x":9,"y":0,"v":70}],
"e4":[{"x":0,"y":9,"v":51},{"x":1,"y":9,"v":56},{"x":2,"y":9,"v":50},{"x":3,"y":9,"v":50},{"x":4,"y":9,"v":49},{"x":5,"y":9,"v":51},{"x":6,"y":9,"v":58},{"x":7,"y":9,"v":47},{"x":8,"y":9,"v":52},{"x":9,"y":9,"v":42},{"x":0,"y":8,"v":53},{"x":1,"y":8,"v":58},{"x":2,"y":8,"v":55},{"x":3,"y":8,"v":52},{"x":4,"y":8,"v":55},{"x":5,"y":8,"v":50},{"x":6,"y":8,"v":50},{"x":7,"y":8,"v":49},{"x":8,"y":8,"v":48},{"x":9,"y":8,"v":48},{"x":0,"y":7,"v":69},{"x":1,"y":7,"v":62},{"x":2,"y":7,"v":53},{"x":3,"y":7,"v":58},{"x":4,"y":7,"v":48},{"x":5,"y":7,"v":58},{"x":6,"y":7,"v":52},{"x":7,"y":7,"v":56},{"x":8,"y":7,"v":51},{"x":9,"y":7,"v":58},{"x":0,"y":6,"v":68},{"x":1,"y":6,"v":69},{"x":2,"y":6,"v":58},{"x":3,"y":6,"v":70},{"x":4,"y":6,"v":59},{"x":5,"y":6,"v":62},{"x":6,"y":6,"v":58},{"x":7,"y":6,"v":64},{"x":8,"y":6,"v":66},{"x":9,"y":6,"v":55},{"x":0,"y":5,"v":68},{"x":1,"y":5,"v":68},{"x":2,"y":5,"v":68},{"x":3,"y":5,"v":68},{"x":4,"y":5,"v":63},{"x":5,"y":5,"v":68},{"x":6,"y":5,"v":62},{"x":7,"y":5,"v":68},{"x":8,"y":5,"v":61},{"x":9,"y":5,"v":69},{"x":0,"y":4,"v":70},{"x":1,"y":4,"v":70},{"x":2,"y":4,"v":70},{"x":3,"y":4,"v":69},{"x":4,"y":4,"v":70},{"x":5,"y":4,"v":69},{"x":6,"y":4,"v":69},{"x":7,"y":4,"v":69},{"x":8,"y":4,"v":68},{"x":9,"y":4,"v":68},{"x":0,"y":3,"v":76},{"x":1,"y":3,"v":76},{"x":2,"y":3,"v":75},{"x":3,"y":3,"v":75},{"x":4,"y":3,"v":72},{"x":5,"y":3,"v":72},{"x":6,"y":3,"v":69},{"x":7,"y":3,"v":69},{"x":8,"y":3,"v":69},{"x":9,"y":3,"v":68},{"x":0,"y":2,"v":78},{"x":1,"y":2,"v":78},{"x":2,"y":2,"v":77},{"x":3,"y":2,"v":78},{"x":4,"y":2,"v":76},{"x":5,"y":2,"v":74},{"x":6,"y":2,"v":72},{"x":7,"y":2,"v":69},{"x":8,"y":2,"v":70},{"x":9,"y":2,"v":69},{"x":0,"y":1,"v":85},{"x":1,"y":1,"v":85},{"x":2,"y":1,"v":84},{"x":3,"y":1,"v":82},{"x":4,"y":1,"v":80},{"x":5,"y":1,"v":77},{"x":6,"y":1,"v":74},{"x":7,"y":1,"v":72},{"x":8,"y":1,"v":71},{"x":9,"y":1,"v":70},{"x":0,"y":0,"v":87},{"x":1,"y":0,"v":87},{"x":2,"y":0,"v":86},{"x":3,"y":0,"v":84},{"x":4,"y":0,"v":80},{"x":5,"y":0,"v":78},{"x":6,"y":0,"v":76},{"x":7,"y":0,"v":73},{"x":8,"y":0,"v":72},{"x":9,"y":0,"v":72}],
"e5":[{"x":0,"y":9,"v":82},{"x":1,"y":9,"v":84},{"x":2,"y":9,"v":90},{"x":3,"y":9,"v":92},{"x":4,"y":9,"v":89},{"x":5,"y":9,"v":88},{"x":6,"y":9,"v":90},{"x":7,"y":9,"v":93},{"x":8,"y":9,"v":95},{"x":9,"y":9,"v":95},{"x":0,"y":8,"v":87},{"x":1,"y":8,"v":90},{"x":2,"y":8,"v":90},{"x":3,"y":8,"v":95},{"x":4,"y":8,"v":91},{"x":5,"y":8,"v":90},{"x":6,"y":8,"v":88},{"x":7,"y":8,"v":83},{"x":8,"y":8,"v":88},{"x":9,"y":8,"v":89},{"x":0,"y":7,"v":88},{"x":1,"y":7,"v":85},{"x":2,"y":7,"v":93},{"x":3,"y":7,"v":95},{"x":4,"y":7,"v":88},{"x":5,"y":7,"v":100},{"x":6,"y":7,"v":90},{"x":7,"y":7,"v":90},{"x":8,"y":7,"v":89},{"x":9,"y":7,"v":88},{"x":0,"y":6,"v":100},{"x":1,"y":6,"v":89},{"x":2,"y":6,"v":90},{"x":3,"y":6,"v":97},{"x":4,"y":6,"v":90},{"x":5,"y":6,"v":90},{"x":6,"y":6,"v":90},{"x":7,"y":6,"v":89},{"x":8,"y":6,"v":90},{"x":9,"y":6,"v":84},{"x":0,"y":5,"v":95},{"x":1,"y":5,"v":90},{"x":2,"y":5,"v":94},{"x":3,"y":5,"v":90},{"x":4,"y":5,"v":93},{"x":5,"y":5,"v":95},{"x":6,"y":5,"v":98},{"x":7,"y":5,"v":92},{"x":8,"y":5,"v":88},{"x":9,"y":5,"v":95},{"x":0,"y":4,"v":95},{"x":1,"y":4,"v":97},{"x":2,"y":4,"v":95},{"x":3,"y":4,"v":94},{"x":4,"y":4,"v":96},{"x":5,"y":4,"v":92},{"x":6,"y":4,"v":97},{"x":7,"y":4,"v":92},{"x":8,"y":4,"v":96},{"x":9,"y":4,"v":96},{"x":0,"y":3,"v":93},{"x":1,"y":3,"v":95},{"x":2,"y":3,"v":100},{"x":3,"y":3,"v":96},{"x":4,"y":3,"v":94},{"x":5,"y":3,"v":100},{"x":6,"y":3,"v":94},{"x":7,"y":3,"v":94},{"x":8,"y":3,"v":94},{"x":9,"y":3,"v":88},{"x":0,"y":2,"v":93},{"x":1,"y":2,"v":96},{"x":2,"y":2,"v":99},{"x":3,"y":2,"v":108},{"x":4,"y":2,"v":92},{"x":5,"y":2,"v":98},{"x":6,"y":2,"v":98},{"x":7,"y":2,"v":97},{"x":8,"y":2,"v":98},{"x":9,"y":2,"v":95},{"x":0,"y":1,"v":108},{"x":1,"y":1,"v":99},{"x":2,"y":1,"v":97},{"x":3,"y":1,"v":97},{"x":4,"y":1,"v":100},{"x":5,"y":1,"v":100},{"x":6,"y":1,"v":98},{"x":7,"y":1,"v":98},{"x":8,"y":1,"v":98},{"x":9,"y":1,"v":100},{"x":0,"y":0,"v":90},{"x":1,"y":0,"v":97},{"x":2,"y":0,"v":100},{"x":3,"y":0,"v":100},{"x":4,"y":0,"v":99},{"x":5,"y":0,"v":98},{"x":6,"y":0,"v":92},{"x":7,"y":0,"v":98},{"x":8,"y":0,"v":92},{"x":9,"y":0,"v":98}],
"e6":[{"x":0,"y":9,"v":36},{"x":1,"y":9,"v":29},{"x":2,"y":9,"v":21},{"x":3,"y":9,"v":13},{"x":4,"y":9,"v":14},{"x":5,"y":9,"v":15},{"x":6,"y":9,"v":17},{"x":7,"y":9,"v":13},{"x":8,"y":9,"v":12},{"x":9,"y":9,"v":8},{"x":0,"y":8,"v":35},{"x":1,"y":8,"v":32},{"x":2,"y":8,"v":27},{"x":3,"y":8,"v":20},{"x":4,"y":8,"v":26},{"x":5,"y":8,"v":20},{"x":6,"y":8,"v":13},{"x":7,"y":8,"v":14},{"x":8,"y":8,"v":11},{"x":9,"y":8,"v":12},{"x":0,"y":7,"v":43},{"x":1,"y":7,"v":30},{"x":2,"y":7,"v":23},{"x":3,"y":7,"v":21},{"x":4,"y":7,"v":12},{"x":5,"y":7,"v":22},{"x":6,"y":7,"v":17},{"x":7,"y":7,"v":15},{"x":8,"y":7,"v":15},{"x":9,"y":7,"v":21},{"x":0,"y":6,"v":43},{"x":1,"y":6,"v":33},{"x":2,"y":6,"v":28},{"x":3,"y":6,"v":27},{"x":4,"y":6,"v":23},{"x":5,"y":6,"v":23},{"x":6,"y":6,"v":22},{"x":7,"y":6,"v":22},{"x":8,"y":6,"v":22},{"x":9,"y":6,"v":16},{"x":0,"y":5,"v":46},{"x":1,"y":5,"v":42},{"x":2,"y":5,"v":41},{"x":3,"y":5,"v":34},{"x":4,"y":5,"v":27},{"x":5,"y":5,"v":32},{"x":6,"y":5,"v":23},{"x":7,"y":5,"v":26},{"x":8,"y":5,"v":22},{"x":9,"y":5,"v":28},{"x":0,"y":4,"v":48},{"x":1,"y":4,"v":43},{"x":2,"y":4,"v":41},{"x":3,"y":4,"v":37},{"x":4,"y":4,"v":33},{"x":5,"y":4,"v":30},{"x":6,"y":4,"v":34},{"x":7,"y":4,"v":29},{"x":8,"y":4,"v":23},{"x":9,"y":4,"v":28},{"x":0,"y":3,"v":68},{"x":1,"y":3,"v":52},{"x":2,"y":3,"v":45},{"x":3,"y":3,"v":42},{"x":4,"y":3,"v":42},{"x":5,"y":3,"v":42},{"x":6,"y":3,"v":33},{"x":7,"y":3,"v":33},{"x":8,"y":3,"v":33},{"x":9,"y":3,"v":26},{"x":0,"y":2,"v":70},{"x":1,"y":2,"v":57},{"x":2,"y":2,"v":53},{"x":3,"y":2,"v":47},{"x":4,"y":2,"v":57},{"x":5,"y":2,"v":44},{"x":6,"y":2,"v":40},{"x":7,"y":2,"v":36},{"x":8,"y":2,"v":42},{"x":9,"y":2,"v":36},{"x":0,"y":1,"v":85},{"x":1,"y":1,"v":71},{"x":2,"y":1,"v":71},{"x":3,"y":1,"v":57},{"x":4,"y":1,"v":55},{"x":5,"y":1,"v":52},{"x":6,"y":1,"v":47},{"x":7,"y":1,"v":44},{"x":8,"y":1,"v":44},{"x":9,"y":1,"v":46},{"x":0,"y":0,"v":98},{"x":1,"y":0,"v":96},{"x":2,"y":0,"v":88},{"x":3,"y":0,"v":80},{"x":4,"y":0,"v":73},{"x":5,"y":0,"v":71},{"x":6,"y":0,"v":97},{"x":7,"y":0,"v":70},{"x":8,"y":0,"v":62},{"x":9,"y":0,"v":70}],
"f1":[{"x":0,"y":9,"v":66},{"x":1,"y":9,"v":50},{"x":2,"y":9,"v":52},{"x":3,"y":9,"v":54},{"x":4,"y":9,"v":55},{"x":5,"y":9,"v":55},{"x":6,"y":9,"v":55},{"x":7,"y":9,"v":47},{"x":8,"y":9,"v":51},{"x":9,"y":9,"v":48},{"x":0,"y":8,"v":54},{"x":1,"y":8,"v":48},{"x":2,"y":8,"v":54},{"x":3,"y":8,"v":57},{"x":4,"y":8,"v":55},{"x":5,"y":8,"v":56},{"x":6,"y":8,"v":57},{"x":7,"y":8,"v":54},{"x":8,"y":8,"v":62},{"x":9,"y":8,"v":58},{"x":0,"y":7,"v":59},{"x":1,"y":7,"v":60},{"x":2,"y":7,"v":54},{"x":3,"y":7,"v":57},{"x":4,"y":7,"v":52},{"x":5,"y":7,"v":55},{"x":6,"y":7,"v":49},{"x":7,"y":7,"v":56},{"x":8,"y":7,"v":59},{"x":9,"y":7,"v":52},{"x":0,"y":6,"v":63},{"x":1,"y":6,"v":57},{"x":2,"y":6,"v":54},{"x":3,"y":6,"v":55},{"x":4,"y":6,"v":54},{"x":5,"y":6,"v":55},{"x":6,"y":6,"v":54},{"x":7,"y":6,"v":56},{"x":8,"y":6,"v":53},{"x":9,"y":6,"v":54},{"x":0,"y":5,"v":59},{"x":1,"y":5,"v":68},{"x":2,"y":5,"v":57},{"x":3,"y":5,"v":56},{"x":4,"y":5,"v":55},{"x":5,"y":5,"v":54},{"x":6,"y":5,"v":60},{"x":7,"y":5,"v":55},{"x":8,"y":5,"v":53},{"x":9,"y":5,"v":52},{"x":0,"y":4,"v":57},{"x":1,"y":4,"v":66},{"x":2,"y":4,"v":55},{"x":3,"y":4,"v":55},{"x":4,"y":4,"v":54},{"x":5,"y":4,"v":56},{"x":6,"y":4,"v":54},{"x":7,"y":4,"v":58},{"x":8,"y":4,"v":54},{"x":9,"y":4,"v":47},{"x":0,"y":3,"v":55},{"x":1,"y":3,"v":54},{"x":2,"y":3,"v":54},{"x":3,"y":3,"v":56},{"x":4,"y":3,"v":55},{"x":5,"y":3,"v":52},{"x":6,"y":3,"v":55},{"x":7,"y":3,"v":55},{"x":8,"y":3,"v":57},{"x":9,"y":3,"v":61},{"x":0,"y":2,"v":60},{"x":1,"y":2,"v":52},{"x":2,"y":2,"v":52},{"x":3,"y":2,"v":48},{"x":4,"y":2,"v":47},{"x":5,"y":2,"v":62},{"x":6,"y":2,"v":55},{"x":7,"y":2,"v":54},{"x":8,"y":2,"v":56},{"x":9,"y":2,"v":52},{"x":0,"y":1,"v":50},{"x":1,"y":1,"v":53},{"x":2,"y":1,"v":47},{"x":3,"y":1,"v":50},{"x":4,"y":1,"v":52},{"x":5,"y":1,"v":49},{"x":6,"y":1,"v":51},{"x":7,"y":1,"v":48},{"x":8,"y":1,"v":55},{"x":9,"y":1,"v":50},{"x":0,"y":0,"v":46},{"x":1,"y":0,"v":49},{"x":2,"y":0,"v":45},{"x":3,"y":0,"v":44},{"x":4,"y":0,"v":45},{"x":5,"y":0,"v":47},{"x":6,"y":0,"v":47},{"x":7,"y":0,"v":47},{"x":8,"y":0,"v":51},{"x":9,"y":0,"v":56}],
"f2":[{"x":0,"y":9,"v":42},{"x":1,"y":9,"v":36},{"x":2,"y":9,"v":38},{"x":3,"y":9,"v":37},{"x":4,"y":9,"v":36},{"x":5,"y":9,"v":40},{"x":6,"y":9,"v":37},{"x":7,"y":9,"v":31},{"x":8,"y":9,"v":31},{"x":9,"y":9,"v":31},{"x":0,"y":8,"v":40},{"x":1,"y":8,"v":40},{"x":2,"y":8,"v":42},{"x":3,"y":8,"v":43},{"x":4,"y":8,"v":37},{"x":5,"y":8,"v":39},{"x":6,"y":8,"v":39},{"x":7,"y":8,"v":33},{"x":8,"y":8,"v":40},{"x":9,"y":8,"v":37},{"x":0,"y":7,"v":44},{"x":1,"y":7,"v":41},{"x":2,"y":7,"v":39},{"x":3,"y":7,"v":39},{"x":4,"y":7,"v":40},{"x":5,"y":7,"v":39},{"x":6,"y":7,"v":39},{"x":7,"y":7,"v":39},{"x":8,"y":7,"v":38},{"x":9,"y":7,"v":36},{"x":0,"y":6,"v":45},{"x":1,"y":6,"v":45},{"x":2,"y":6,"v":42},{"x":3,"y":6,"v":43},{"x":4,"y":6,"v":39},{"x":5,"y":6,"v":39},{"x":6,"y":6,"v":39},{"x":7,"y":6,"v":38},{"x":8,"y":6,"v":40},{"x":9,"y":6,"v":39},{"x":0,"y":5,"v":49},{"x":1,"y":5,"v":51},{"x":2,"y":5,"v":46},{"x":3,"y":5,"v":41},{"x":4,"y":5,"v":43},{"x":5,"y":5,"v":43},{"x":6,"y":5,"v":46},{"x":7,"y":5,"v":41},{"x":8,"y":5,"v":41},{"x":9,"y":5,"v":40},{"x":0,"y":4,"v":48},{"x":1,"y":4,"v":52},{"x":2,"y":4,"v":47},{"x":3,"y":4,"v":46},{"x":4,"y":4,"v":46},{"x":5,"y":4,"v":47},{"x":6,"y":4,"v":43},{"x":7,"y":4,"v":41},{"x":8,"y":4,"v":43},{"x":9,"y":4,"v":39},{"x":0,"y":3,"v":50},{"x":1,"y":3,"v":49},{"x":2,"y":3,"v":49},{"x":3,"y":3,"v":50},{"x":4,"y":3,"v":47},{"x":5,"y":3,"v":46},{"x":6,"y":3,"v":44},{"x":7,"y":3,"v":48},{"x":8,"y":3,"v":43},{"x":9,"y":3,"v":40},{"x":0,"y":2,"v":56},{"x":1,"y":2,"v":50},{"x":2,"y":2,"v":50},{"x":3,"y":2,"v":45},{"x":4,"y":2,"v":44},{"x":5,"y":2,"v":53},{"x":6,"y":2,"v":49},{"x":7,"y":2,"v":48},{"x":8,"y":2,"v":49},{"x":9,"y":2,"v":46},{"x":0,"y":1,"v":50},{"x":1,"y":1,"v":52},{"x":2,"y":1,"v":49},{"x":3,"y":1,"v":49},{"x":4,"y":1,"v":49},{"x":5,"y":1,"v":46},{"x":6,"y":1,"v":50},{"x":7,"y":1,"v":46},{"x":8,"y":1,"v":49},{"x":9,"y":1,"v":44},{"x":0,"y":0,"v":47},{"x":1,"y":0,"v":50},{"x":2,"y":0,"v":45},{"x":3,"y":0,"v":45},{"x":4,"y":0,"v":45},{"x":5,"y":0,"v":47},{"x":6,"y":0,"v":47},{"x":7,"y":0,"v":47},{"x":8,"y":0,"v":50},{"x":9,"y":0,"v":54}],
"f3":[{"x":0,"y":9,"v":45},{"x":1,"y":9,"v":36},{"x":2,"y":9,"v":35},{"x":3,"y":9,"v":38},{"x":4,"y":9,"v":40},{"x":5,"y":9,"v":39},{"x":6,"y":9,"v":37},{"x":7,"y":9,"v":34},{"x":8,"y":9,"v":31},{"x":9,"y":9,"v":30},{"x":0,"y":8,"v":40},{"x":1,"y":8,"v":36},{"x":2,"y":8,"v":36},{"x":3,"y":8,"v":40},{"x":4,"y":8,"v":37},{"x":5,"y":8,"v":36},{"x":6,"y":8,"v":40},{"x":7,"y":8,"v":37},{"x":8,"y":8,"v":38},{"x":9,"y":8,"v":38},{"x":0,"y":7,"v":42},{"x":1,"y":7,"v":41},{"x":2,"y":7,"v":40},{"x":3,"y":7,"v":40},{"x":4,"y":7,"v":35},{"x":5,"y":7,"v":40},{"x":6,"y":7,"v":34},{"x":7,"y":7,"v":36},{"x":8,"y":7,"v":39},{"x":9,"y":7,"v":31},{"x":0,"y":6,"v":43},{"x":1,"y":6,"v":40},{"x":2,"y":6,"v":39},{"x":3,"y":6,"v":40},{"x":4,"y":6,"v":37},{"x":5,"y":6,"v":37},{"x":6,"y":6,"v":36},{"x":7,"y":6,"v":36},{"x":8,"y":6,"v":34},{"x":9,"y":6,"v":34},{"x":0,"y":5,"v":40},{"x":1,"y":5,"v":44},{"x":2,"y":5,"v":40},{"x":3,"y":5,"v":40},{"x":4,"y":5,"v":36},{"x":5,"y":5,"v":36},{"x":6,"y":5,"v":40},{"x":7,"y":5,"v":35},{"x":8,"y":5,"v":34},{"x":9,"y":5,"v":31},{"x":0,"y":4,"v":40},{"x":1,"y":4,"v":42},{"x":2,"y":4,"v":40},{"x":3,"y":4,"v":40},{"x":4,"y":4,"v":36},{"x":5,"y":4,"v":39},{"x":6,"y":4,"v":34},{"x":7,"y":4,"v":38},{"x":8,"y":4,"v":33},{"x":9,"y":4,"v":26},{"x":0,"y":3,"v":40},{"x":1,"y":3,"v":36},{"x":2,"y":3,"v":37},{"x":3,"y":3,"v":38},{"x":4,"y":3,"v":37},{"x":5,"y":3,"v":37},{"x":6,"y":3,"v":37},{"x":7,"y":3,"v":35},{"x":8,"y":3,"v":36},{"x":9,"y":3,"v":36},{"x":0,"y":2,"v":41},{"x":1,"y":2,"v":37},{"x":2,"y":2,"v":36},{"x":3,"y":2,"v":34},{"x":4,"y":2,"v":32},{"x":5,"y":2,"v":41},{"x":6,"y":2,"v":38},{"x":7,"y":2,"v":36},{"x":8,"y":2,"v":36},{"x":9,"y":2,"v":30},{"x":0,"y":1,"v":31},{"x":1,"y":1,"v":38},{"x":2,"y":1,"v":31},{"x":3,"y":1,"v":30},{"x":4,"y":1,"v":30},{"x":5,"y":1,"v":30},{"x":6,"y":1,"v":30},{"x":7,"y":1,"v":27},{"x":8,"y":1,"v":34},{"x":9,"y":1,"v":31},{"x":0,"y":0,"v":26},{"x":1,"y":0,"v":30},{"x":2,"y":0,"v":24},{"x":3,"y":0,"v":25},{"x":4,"y":0,"v":23},{"x":5,"y":0,"v":29},{"x":6,"y":0,"v":28},{"x":7,"y":0,"v":25},{"x":8,"y":0,"v":30},{"x":9,"y":0,"v":35}],
"f4":[{"x":0,"y":9,"v":1},{"x":1,"y":9,"v":1},{"x":2,"y":9,"v":1},{"x":3,"y":9,"v":1},{"x":4,"y":9,"v":1},{"x":5,"y":9,"v":1},{"x":6,"y":9,"v":1},{"x":7,"y":9,"v":1},{"x":8,"y":9,"v":1},{"x":9,"y":9,"v":1},{"x":0,"y":8,"v":1},{"x":1,"y":8,"v":1},{"x":2,"y":8,"v":1},{"x":3,"y":8,"v":1},{"x":4,"y":8,"v":2},{"x":5,"y":8,"v":2},{"x":6,"y":8,"v":1},{"x":7,"y":8,"v":2},{"x":8,"y":8,"v":2},{"x":9,"y":8,"v":2},{"x":0,"y":7,"v":1},{"x":1,"y":7,"v":3},{"x":2,"y":7,"v":1},{"x":3,"y":7,"v":3},{"x":4,"y":7,"v":1},{"x":5,"y":7,"v":3},{"x":6,"y":7,"v":1},{"x":7,"y":7,"v":2},{"x":8,"y":7,"v":3},{"x":9,"y":7,"v":3},{"x":0,"y":6,"v":2},{"x":1,"y":6,"v":3},{"x":2,"y":6,"v":2},{"x":3,"y":6,"v":3},{"x":4,"y":6,"v":3},{"x":5,"y":6,"v":3},{"x":6,"y":6,"v":3},{"x":7,"y":6,"v":3},{"x":8,"y":6,"v":3},{"x":9,"y":6,"v":3},{"x":0,"y":5,"v":3},{"x":1,"y":5,"v":3},{"x":2,"y":5,"v":3},{"x":3,"y":5,"v":3},{"x":4,"y":5,"v":3},{"x":5,"y":5,"v":3},{"x":6,"y":5,"v":3},{"x":7,"y":5,"v":3},{"x":8,"y":5,"v":3},{"x":9,"y":5,"v":3},{"x":0,"y":4,"v":3},{"x":1,"y":4,"v":3},{"x":2,"y":4,"v":3},{"x":3,"y":4,"v":3},{"x":4,"y":4,"v":4},{"x":5,"y":4,"v":3},{"x":6,"y":4,"v":3},{"x":7,"y":4,"v":3},{"x":8,"y":4,"v":3},{"x":9,"y":4,"v":3},{"x":0,"y":3,"v":3},{"x":1,"y":3,"v":3},{"x":2,"y":3,"v":3},{"x":3,"y":3,"v":3},{"x":4,"y":3,"v":3},{"x":5,"y":3,"v":3},{"x":6,"y":3,"v":3},{"x":7,"y":3,"v":3},{"x":8,"y":3,"v":3},{"x":9,"y":3,"v":3},{"x":0,"y":2,"v":2},{"x":1,"y":2,"v":2},{"x":2,"y":2,"v":2},{"x":3,"y":2,"v":2},{"x":4,"y":2,"v":2},{"x":5,"y":2,"v":3},{"x":6,"y":2,"v":3},{"x":7,"y":2,"v":4},{"x":8,"y":2,"v":3},{"x":9,"y":2,"v":3},{"x":0,"y":1,"v":2},{"x":1,"y":1,"v":2},{"x":2,"y":1,"v":2},{"x":3,"y":1,"v":2},{"x":4,"y":1,"v":2},{"x":5,"y":1,"v":3},{"x":6,"y":1,"v":3},{"x":7,"y":1,"v":3},{"x":8,"y":1,"v":4},{"x":9,"y":1,"v":4},{"x":0,"y":0,"v":1},{"x":1,"y":0,"v":2},{"x":2,"y":0,"v":2},{"x":3,"y":0,"v":2},{"x":4,"y":0,"v":2},{"x":5,"y":0,"v":2},{"x":6,"y":0,"v":3},{"x":7,"y":0,"v":3},{"x":8,"y":0,"v":4},{"x":9,"y":0,"v":4}],
"tree":[{"x":88,"x2":88,"y":96,"y2":154},{"x":88,"x2":242,"y":96,"y2":96},{"x":242,"x2":242,"y":70,"y2":123},{"x":242,"x2":361,"y":123,"y2":123},{"x":242,"x2":265,"y":70,"y2":70},{"x":265,"x2":265,"y":45,"y2":96},{"x":265,"x2":270,"y":45,"y2":45},{"x":270,"x2":270,"y":31,"y2":59},{"x":270,"x2":348,"y":31,"y2":31},{"x":270,"x2":324,"y":59,"y2":59},{"x":324,"x2":324,"y":50,"y2":68},{"x":324,"x2":366,"y":50,"y2":50},{"x":324,"x2":363,"y":68,"y2":68},{"x":265,"x2":310,"y":96,"y2":96},{"x":310,"x2":310,"y":87,"y2":105},{"x":310,"x2":366,"y":87,"y2":87},{"x":310,"x2":365,"y":105,"y2":105},{"x":88,"x2":299,"y":154,"y2":154},{"x":299,"x2":299,"y":141,"y2":168},{"x":299,"x2":366,"y":141,"y2":141},{"x":299,"x2":324,"y":168,"y2":168},{"x":324,"x2":324,"y":159,"y2":177},{"x":324,"x2":366,"y":159,"y2":159},{"x":324,"x2":366,"y":177,"y2":177}]},
"columns":7,"align":"each","bounds":"flush","spacing":{"row":16,"column":14.6},
"concat":[
{"title":"Nt Sensitivity","width":177,"height":158.5,"data":{"name":"a1"},"mark":"rect","encoding":{"x":{"field":"x","type":"quantitative","title":null,"scale":{"domain":[-0.5,9.5]},"axis":{"values":[0,2,4,6,8],"labels":false}},"y":{"field":"y","type":"quantitative","title":null,"scale":{"domain":[-0.5,9.5]},"axis":{"values":[0,1.34,2.68,4.02,5.36,6.7,8.04,9.38],"labelAngle":270,"labelAlign":"center","labelBaseline":"bottom","labelExpr":"datum.value==0?'0':datum.value==2.68?'0.4':datum.value==5.36?'0.8':datum.value==8.04?'1.2':''"}},"color":{"field":"v","type":"quantitative","scale":{"domain":[-10,110],"interpolate":"rgb"}}}},
{"title":"Nt PPV","width":177,"height":158.5,"data":{"name":"a2"},"mark":"rect","encoding":{"x":{"field":"x","type":"quantitative","title":null,"scale":{"domain":[-0.5,9.5]},"axis":{"values":[0,2,4,6,8],"labels":false}},"y":{"field":"y","type":"quantitative","title":null,"scale":{"domain":[-0.5,9.5]},"axis":{"values":[0,1.34,2.68,4.02,5.36,6.7,8.04,9.38],"labels":false}},"color":{"field":"v","type":"quantitative","scale":{"domain":[-10,110],"interpolate":"rgb"}}}},
{"title":"Indel Sensitivity","width":177,"height":158.5,"data":{"name":"a3"},"mark":"rect","encoding":{"x":{"field":"x","type":"quantitative","title":null,"scale":{"domain":[-0.5,9.5]},"axis":{"values":[0,2,4,6,8],"labels":false}},"y":{"field":"y","type":"quantitative","title":null,"scale":{"domain":[-0.5,9.5]},"axis":{"values":[0,1.34,2.68,4.02,5.36,6.7,8.04,9.38],"labels":false}},"color":{"field":"v","type":"quantitative","scale":{"domain":[-10,110],"interpolate":"rgb"}}}},
{"title":"Indel PPV","width":177,"height":158.5,"data":{"name":"a4"},"mark":"rect","encoding":{"x":{"field":"x","type":"quantitative","title":null,"scale":{"domain":[-0.5,9.5]},"axis":{"values":[0,2,4,6,8],"labels":false}},"y":{"field":"y","type":"quantitative","title":null,"scale":{"domain":[-0.5,9.5]},"axis":{"values":[0,1.34,2.68,4.02,5.36,6.7,8.04,9.38],"labels":false}},"color":{"field":"v","type":"quantitative","scale":{"domain":[-10,110],"interpolate":"rgb"}}}},
{"title":"LCB Sensitivity","width":177,"height":158.5,"data":{"name":"a5"},"mark":"rect","encoding":{"x":{"field":"x","type":"quantitative","title":null,"scale":{"domain":[-0.5,9.5]},"axis":{"values":[0,2,4,6,8],"labels":false}},"y":{"field":"y","type":"quantitative","title":null,"scale":{"domain":[-0.5,9.5]},"axis":{"values":[0,1.34,2.68,4.02,5.36,6.7,8.04,9.38],"labels":false}},"color":{"field":"v","type":"quantitative","scale":{"domain":[-10,110],"interpolate":"rgb"}}}},
{"title":"LCB PPV","width":177,"height":158.5,"data":{"name":"a6"},"mark":"rect","encoding":{"x":{"field":"x","type":"quantitative","title":null,"scale":{"domain":[-0.5,9.5]},"axis":{"values":[0,2,4,6,8],"labels":false}},"y":{"field":"y","type":"quantitative","title":null,"scale":{"domain":[-0.5,9.5]},"axis":{"values":[0,1.34,2.68,4.02,5.36,6.7,8.04,9.38],"labels":false}},"color":{"field":"v","type":"quantitative","scale":{"domain":[-10,110],"interpolate":"rgb"}}}},
{"width":6,"height":158.5,"view":{"stroke":null},"data":{"values":[{"t":"mauveAligner"}]},"mark":{"type":"text","angle":90,"fontSize":26,"font":"Lato","color":"#231f20"},"encoding":{"text":{"field":"t"}}},

{"width":177,"height":160,"layer":[{"data":{"name":"b1"},"mark":"rect","encoding":{"x":{"field":"x","type":"quantitative","title":null,"scale":{"domain":[-0.5,9.5],"nice":false},"axis":{"values":[0,2,4,6,8],"labels":false}},"y":{"field":"y","type":"quantitative","scale":{"domain":[-0.5,9.5],"nice":false},"axis":{"title":"Inversions among most distant taxa (thousands)","titleX":-37,"titleY":60,"values":[0,1.34,2.68,4.02,5.36,6.7,8.04,9.38],"labelAngle":270,"labelAlign":"center","labelBaseline":"bottom","labelExpr":"datum.value==0?'0':datum.value==2.68?'0.4':datum.value==5.36?'0.8':datum.value==8.04?'1.2':''"}},"color":{"field":"v","type":"quantitative","scale":{"domain":[-10,110],"interpolate":"rgb"}}}},{"data":{"values":[{"x":1.86,"y":0.75,"t":"*"}]},"mark":{"type":"text","fontSize":30,"color":"#4aa5c8","dy":7},"encoding":{"x":{"field":"x","type":"quantitative"},"y":{"field":"y","type":"quantitative"},"text":{"field":"t"}}}]},
{"width":177,"height":160,"data":{"name":"b2"},"mark":"rect","encoding":{"x":{"field":"x","type":"quantitative","title":null,"scale":{"domain":[-0.5,9.5]},"axis":{"values":[0,2,4,6,8],"labels":false}},"y":{"field":"y","type":"quantitative","title":null,"scale":{"domain":[-0.5,9.5]},"axis":{"values":[0,1.34,2.68,4.02,5.36,6.7,8.04,9.38],"labels":false}},"color":{"field":"v","type":"quantitative","scale":{"domain":[-10,110],"interpolate":"rgb"}}}},
{"width":177,"height":160,"data":{"name":"b3"},"mark":"rect","encoding":{"x":{"field":"x","type":"quantitative","title":null,"scale":{"domain":[-0.5,9.5]},"axis":{"values":[0,2,4,6,8],"labels":false}},"y":{"field":"y","type":"quantitative","title":null,"scale":{"domain":[-0.5,9.5]},"axis":{"values":[0,1.34,2.68,4.02,5.36,6.7,8.04,9.38],"labels":false}},"color":{"field":"v","type":"quantitative","scale":{"domain":[-10,110],"interpolate":"rgb"}}}},
{"width":177,"height":160,"data":{"name":"b4"},"mark":"rect","encoding":{"x":{"field":"x","type":"quantitative","title":null,"scale":{"domain":[-0.5,9.5]},"axis":{"values":[0,2,4,6,8],"labels":false}},"y":{"field":"y","type":"quantitative","title":null,"scale":{"domain":[-0.5,9.5]},"axis":{"values":[0,1.34,2.68,4.02,5.36,6.7,8.04,9.38],"labels":false}},"color":{"field":"v","type":"quantitative","scale":{"domain":[-10,110],"interpolate":"rgb"}}}},
{"width":177,"height":160,"data":{"name":"b5"},"mark":"rect","encoding":{"x":{"field":"x","type":"quantitative","title":null,"scale":{"domain":[-0.5,9.5]},"axis":{"values":[0,2,4,6,8],"labelExpr":"datum.value%4?'':datum.value/10"}},"y":{"field":"y","type":"quantitative","title":null,"scale":{"domain":[-0.5,9.5]},"axis":{"values":[0,1.34,2.68,4.02,5.36,6.7,8.04,9.38],"labels":false}},"color":{"field":"v","type":"quantitative","scale":{"domain":[-10,110],"interpolate":"rgb"}}}},
{"width":177,"height":160,"data":{"name":"b6"},"mark":"rect","encoding":{"x":{"field":"x","type":"quantitative","title":null,"scale":{"domain":[-0.5,9.5]},"axis":{"values":[0,2,4,6,8],"labelExpr":"datum.value%4?'':datum.value/10"}},"y":{"field":"y","type":"quantitative","title":null,"scale":{"domain":[-0.5,9.5]},"axis":{"values":[0,1.34,2.68,4.02,5.36,6.7,8.04,9.38],"labels":false}},"color":{"field":"v","type":"quantitative","scale":{"domain":[-10,110],"interpolate":"rgb"}}}},
{"width":6,"height":160,"view":{"stroke":null},"data":{"values":[{"t":"progressiveMauve"}]},"mark":{"type":"text","angle":90,"fontSize":21,"font":"Lato","color":"#231f20"},"encoding":{"text":{"field":"t"}}},

{"width":177,"height":160,"data":{"name":"c1"},"mark":"rect","encoding":{"x":{"field":"x","type":"quantitative","title":null,"scale":{"domain":[-0.5,9.5]},"axis":{"values":[0,2,4,6,8],"labelExpr":"datum.value%4?'':datum.value/10"}},"y":{"field":"y","type":"quantitative","title":null,"scale":{"domain":[-0.5,9.5]},"axis":{"values":[0,1.34,2.68,4.02,5.36,6.7,8.04,9.38],"labelAngle":270,"labelAlign":"center","labelBaseline":"bottom","labelExpr":"datum.value==0?'0':datum.value==2.68?'0.4':datum.value==5.36?'0.8':datum.value==8.04?'1.2':''"}},"color":{"field":"v","type":"quantitative","scale":{"domain":[-10,110],"interpolate":"rgb"}}}},
{"width":177,"height":160,"data":{"name":"c2"},"mark":"rect","encoding":{"x":{"field":"x","type":"quantitative","scale":{"domain":[-0.5,9.5]},"axis":{"title":"Nucleotide substitutions per site among most distant taxa","titleX":196,"titleY":33,"values":[0,2,4,6,8],"labelExpr":"datum.value%4?'':datum.value/10"}},"y":{"field":"y","type":"quantitative","title":null,"scale":{"domain":[-0.5,9.5]},"axis":{"values":[0,1.34,2.68,4.02,5.36,6.7,8.04,9.38],"labels":false}},"color":{"field":"v","type":"quantitative","scale":{"domain":[-10,110],"interpolate":"rgb"}}}},
{"width":177,"height":160,"data":{"name":"c3"},"mark":"rect","encoding":{"x":{"field":"x","type":"quantitative","title":null,"scale":{"domain":[-0.5,9.5]},"axis":{"values":[0,2,4,6,8],"labelExpr":"datum.value%4?'':datum.value/10"}},"y":{"field":"y","type":"quantitative","title":null,"scale":{"domain":[-0.5,9.5]},"axis":{"values":[0,1.34,2.68,4.02,5.36,6.7,8.04,9.38],"labels":false}},"color":{"field":"v","type":"quantitative","scale":{"domain":[-10,110],"interpolate":"rgb"}}}},
{"width":177,"height":160,"data":{"name":"c4"},"mark":"rect","encoding":{"x":{"field":"x","type":"quantitative","title":null,"scale":{"domain":[-0.5,9.5]},"axis":{"values":[0,2,4,6,8],"labelExpr":"datum.value%4?'':datum.value/10"}},"y":{"field":"y","type":"quantitative","title":null,"scale":{"domain":[-0.5,9.5]},"axis":{"values":[0,1.34,2.68,4.02,5.36,6.7,8.04,9.38],"labels":false}},"color":{"field":"v","type":"quantitative","scale":{"domain":[-10,110],"interpolate":"rgb"}}}},
{"width":177,"height":160,"view":{"stroke":null},"layer":[{"data":{"name":"tree"},"mark":{"type":"rule","strokeWidth":3,"color":"#000"},"encoding":{"x":{"field":"x","type":"quantitative","axis":null,"scale":{"domain":[0,402],"range":[0,402],"nice":false}},"x2":{"field":"x2"},"y":{"field":"y","type":"quantitative","axis":null,"scale":{"domain":[0,220],"range":[0,220],"nice":false}},"y2":{"field":"y2"}}},{"data":{"values":[{"x":232,"y":196,"t":"Simulation tree topology"}]},"mark":{"type":"text","fontSize":20.5,"color":"#231f20"},"encoding":{"x":{"field":"x","type":"quantitative"},"y":{"field":"y","type":"quantitative"},"text":{"field":"t"}}},{"data":{"values":[{"x":8,"y":111,"t":"TBA (28-02-2006)"}]},"mark":{"type":"text","fontSize":19,"angle":90,"color":"#231f20"},"encoding":{"x":{"field":"x","type":"quantitative"},"y":{"field":"y","type":"quantitative"},"text":{"field":"t"}}}]},
{"width":177,"height":160,"view":{"stroke":null},"data":{"values":[]},"mark":"point","encoding":{}},
{"width":6,"height":160,"view":{"stroke":null},"data":{"values":[]},"mark":"point","encoding":{}},

{"width":177,"height":74.5,"view":{"stroke":null},"data":{"values":[]},"mark":"point","encoding":{}},
{"width":177,"height":74.5,"view":{"stroke":null},"data":{"values":[]},"mark":"point","encoding":{}},
{"width":177,"height":74.5,"view":{"stroke":null},"data":{"values":[]},"mark":"point","encoding":{}},
{"width":177,"height":74.5,"view":{"stroke":null},"data":{"values":[]},"mark":"point","encoding":{}},
{"width":177,"height":74.5,"view":{"stroke":null},"data":{"values":[]},"mark":"point","encoding":{}},
{"width":177,"height":74.5,"view":{"stroke":null},"data":{"values":[]},"mark":"point","encoding":{}},
{"width":6,"height":74.5,"view":{"stroke":null},"data":{"values":[]},"mark":"point","encoding":{}},

{"title":{"text":"Nt Sensitivity","offset":5,"dx":2},"width":177,"height":160,"data":{"name":"d1"},"mark":"rect","encoding":{"x":{"field":"x","type":"quantitative","title":null,"scale":{"domain":[-0.5,9.5]},"axis":{"values":[0,2,4,6,8],"labels":false}},"y":{"field":"y","type":"quantitative","title":null,"scale":{"domain":[-0.5,9.5]},"axis":{"values":[0,2.5,5,7.5],"labelAngle":270,"labelAlign":"center","labelBaseline":"bottom","labelExpr":"datum.value*20"}},"color":{"field":"v","type":"quantitative","scale":{"domain":[-10,110],"interpolate":"rgb"}}}},
{"title":{"text":"Nt PPV","offset":5,"dx":2},"width":177,"height":160,"data":{"name":"d2"},"mark":"rect","encoding":{"x":{"field":"x","type":"quantitative","title":null,"scale":{"domain":[-0.5,9.5]},"axis":{"values":[0,2,4,6,8],"labels":false}},"y":{"field":"y","type":"quantitative","title":null,"scale":{"domain":[-0.5,9.5]},"axis":{"values":[0,2.5,5,7.5],"labels":false}},"color":{"field":"v","type":"quantitative","scale":{"domain":[-10,110],"interpolate":"rgb"}}}},
{"title":{"text":"Indel Sensitivity","offset":5,"dx":2},"width":177,"height":160,"data":{"name":"d3"},"mark":"rect","encoding":{"x":{"field":"x","type":"quantitative","title":null,"scale":{"domain":[-0.5,9.5]},"axis":{"values":[0,2,4,6,8],"labels":false}},"y":{"field":"y","type":"quantitative","title":null,"scale":{"domain":[-0.5,9.5]},"axis":{"values":[0,2.5,5,7.5],"labels":false}},"color":{"field":"v","type":"quantitative","scale":{"domain":[-10,110],"interpolate":"rgb"}}}},
{"title":{"text":"Indel PPV","offset":5,"dx":2},"width":177,"height":160,"data":{"name":"d4"},"mark":"rect","encoding":{"x":{"field":"x","type":"quantitative","title":null,"scale":{"domain":[-0.5,9.5]},"axis":{"values":[0,2,4,6,8],"labels":false}},"y":{"field":"y","type":"quantitative","title":null,"scale":{"domain":[-0.5,9.5]},"axis":{"values":[0,2.5,5,7.5],"labels":false}},"color":{"field":"v","type":"quantitative","scale":{"domain":[-10,110],"interpolate":"rgb"}}}},
{"title":{"text":"LCB Sensitivity","offset":5,"dx":2},"width":177,"height":160,"data":{"name":"d5"},"mark":"rect","encoding":{"x":{"field":"x","type":"quantitative","title":null,"scale":{"domain":[-0.5,9.5]},"axis":{"values":[0,2,4,6,8],"labels":false}},"y":{"field":"y","type":"quantitative","title":null,"scale":{"domain":[-0.5,9.5]},"axis":{"values":[0,2.5,5,7.5],"labels":false}},"color":{"field":"v","type":"quantitative","scale":{"domain":[-10,110],"interpolate":"rgb"}}}},
{"title":{"text":"LCB PPV","offset":5,"dx":2},"width":177,"height":160,"data":{"name":"d6"},"mark":"rect","encoding":{"x":{"field":"x","type":"quantitative","title":null,"scale":{"domain":[-0.5,9.5]},"axis":{"values":[0,2,4,6,8],"labels":false}},"y":{"field":"y","type":"quantitative","title":null,"scale":{"domain":[-0.5,9.5]},"axis":{"values":[0,2.5,5,7.5],"labels":false}},"color":{"field":"v","type":"quantitative","scale":{"domain":[-10,110],"interpolate":"rgb"}}}},
{"width":6,"height":160,"view":{"stroke":null},"data":{"values":[{"t":"mauveAligner"}]},"mark":{"type":"text","angle":90,"fontSize":26,"font":"Lato","color":"#231f20"},"encoding":{"text":{"field":"t"}}},

{"width":177,"height":160,"layer":[{"data":{"name":"e1"},"mark":"rect","encoding":{"x":{"field":"x","type":"quantitative","title":null,"scale":{"domain":[-0.5,9.5],"nice":false},"axis":{"values":[0,2,4,6,8],"labels":false}},"y":{"field":"y","type":"quantitative","scale":{"domain":[-0.5,9.5],"nice":false},"axis":{"title":"Large gene flux events among most distant taxa","titleX":-34,"titleY":84,"values":[0,2.5,5,7.5],"labelAngle":270,"labelAlign":"center","labelBaseline":"bottom","labelExpr":"datum.value*20"}},"color":{"field":"v","type":"quantitative","scale":{"domain":[-10,110],"interpolate":"rgb"}}}},{"data":{"values":[{"x":0.56,"y":0.75,"t":"*"}]},"mark":{"type":"text","fontSize":30,"color":"#4aa5c8","dy":7},"encoding":{"x":{"field":"x","type":"quantitative"},"y":{"field":"y","type":"quantitative"},"text":{"field":"t"}}}]},
{"width":177,"height":160,"data":{"name":"e2"},"mark":"rect","encoding":{"x":{"field":"x","type":"quantitative","title":null,"scale":{"domain":[-0.5,9.5]},"axis":{"values":[0,2,4,6,8],"labels":false}},"y":{"field":"y","type":"quantitative","title":null,"scale":{"domain":[-0.5,9.5]},"axis":{"values":[0,2.5,5,7.5],"labels":false}},"color":{"field":"v","type":"quantitative","scale":{"domain":[-10,110],"interpolate":"rgb"}}}},
{"width":177,"height":160,"data":{"name":"e3"},"mark":"rect","encoding":{"x":{"field":"x","type":"quantitative","title":null,"scale":{"domain":[-0.5,9.5]},"axis":{"values":[0,2,4,6,8],"labels":false}},"y":{"field":"y","type":"quantitative","title":null,"scale":{"domain":[-0.5,9.5]},"axis":{"values":[0,2.5,5,7.5],"labels":false}},"color":{"field":"v","type":"quantitative","scale":{"domain":[-10,110],"interpolate":"rgb"}}}},
{"width":177,"height":160,"data":{"name":"e4"},"mark":"rect","encoding":{"x":{"field":"x","type":"quantitative","title":null,"scale":{"domain":[-0.5,9.5]},"axis":{"values":[0,2,4,6,8],"labels":false}},"y":{"field":"y","type":"quantitative","title":null,"scale":{"domain":[-0.5,9.5]},"axis":{"values":[0,2.5,5,7.5],"labels":false}},"color":{"field":"v","type":"quantitative","scale":{"domain":[-10,110],"interpolate":"rgb"}}}},
{"width":177,"height":160,"data":{"name":"e5"},"mark":"rect","encoding":{"x":{"field":"x","type":"quantitative","title":null,"scale":{"domain":[-0.5,9.5]},"axis":{"values":[0,2,4,6,8]}},"y":{"field":"y","type":"quantitative","title":null,"scale":{"domain":[-0.5,9.5]},"axis":{"values":[0,2.5,5,7.5],"labels":false}},"color":{"field":"v","type":"quantitative","scale":{"domain":[-10,110],"interpolate":"rgb"}}}},
{"width":177,"height":160,"data":{"name":"e6"},"mark":"rect","encoding":{"x":{"field":"x","type":"quantitative","title":null,"scale":{"domain":[-0.5,9.5]},"axis":{"values":[0,2,4,6,8]}},"y":{"field":"y","type":"quantitative","title":null,"scale":{"domain":[-0.5,9.5]},"axis":{"values":[0,2.5,5,7.5],"labels":false}},"color":{"field":"v","type":"quantitative","scale":{"domain":[-10,110],"interpolate":"rgb"}}}},
{"width":6,"height":160,"view":{"stroke":null},"data":{"values":[{"t":"progressiveMauve"}]},"mark":{"type":"text","angle":90,"fontSize":21,"font":"Lato","color":"#231f20"},"encoding":{"text":{"field":"t"}}},

{"width":177,"height":160,"data":{"name":"f1"},"mark":"rect","encoding":{"x":{"field":"x","type":"quantitative","title":null,"scale":{"domain":[-0.5,9.5]},"axis":{"values":[0,2,4,6,8]}},"y":{"field":"y","type":"quantitative","title":null,"scale":{"domain":[-0.5,9.5]},"axis":{"values":[0,2.5,5,7.5],"labelAngle":270,"labelAlign":"center","labelBaseline":"bottom","labelExpr":"datum.value*20"}},"color":{"field":"v","type":"quantitative","scale":{"domain":[-10,110],"interpolate":"rgb"}}}},
{"width":177,"height":160,"data":{"name":"f2"},"mark":"rect","encoding":{"x":{"field":"x","type":"quantitative","scale":{"domain":[-0.5,9.5]},"axis":{"title":"Small gene flux events among most distant taxa (thousands)","titleX":184,"titleY":35,"values":[0,2,4,6,8]}},"y":{"field":"y","type":"quantitative","title":null,"scale":{"domain":[-0.5,9.5]},"axis":{"values":[0,2.5,5,7.5],"labels":false}},"color":{"field":"v","type":"quantitative","scale":{"domain":[-10,110],"interpolate":"rgb"}}}},
{"width":177,"height":160,"data":{"name":"f3"},"mark":"rect","encoding":{"x":{"field":"x","type":"quantitative","title":null,"scale":{"domain":[-0.5,9.5]},"axis":{"values":[0,2,4,6,8]}},"y":{"field":"y","type":"quantitative","title":null,"scale":{"domain":[-0.5,9.5]},"axis":{"values":[0,2.5,5,7.5],"labels":false}},"color":{"field":"v","type":"quantitative","scale":{"domain":[-10,110],"interpolate":"rgb"}}}},
{"width":177,"height":160,"data":{"name":"f4"},"mark":"rect","encoding":{"x":{"field":"x","type":"quantitative","title":null,"scale":{"domain":[-0.5,9.5]},"axis":{"values":[0,2,4,6,8]}},"y":{"field":"y","type":"quantitative","title":null,"scale":{"domain":[-0.5,9.5]},"axis":{"values":[0,2.5,5,7.5],"labels":false}},"color":{"field":"v","type":"quantitative","scale":{"domain":[-10,110],"interpolate":"rgb"}}}},
{"width":177,"height":160,"view":{"stroke":null},"layer":[
{"data":{"values":[{"x":55,"x2":378,"y":41,"y2":197}]},"mark":{"type":"rect","cornerRadius":28,"fill":null,"stroke":"#000","strokeWidth":4,"clip":false},"encoding":{"x":{"field":"x","type":"quantitative","axis":null,"scale":{"domain":[0,402],"range":[0,402],"nice":false}},"x2":{"field":"x2"},"y":{"field":"y","type":"quantitative","axis":null,"scale":{"domain":[0,220],"range":[0,220],"nice":false}},"y2":{"field":"y2"}}},
{"data":{"values":[{"x":133,"x2":300,"y":30,"y2":50}]},"mark":{"type":"rect","fill":"#fff","clip":false},"encoding":{"x":{"field":"x","type":"quantitative"},"x2":{"field":"x2"},"y":{"field":"y","type":"quantitative"},"y2":{"field":"y2"}}},
{"data":{"values":[{"x":72,"x2":346,"y":132,"y2":171}]},"mark":{"type":"rect","clip":false,"stroke":"#999","strokeWidth":1,"fill":{"x1":0,"y1":0,"x2":1,"y2":0,"gradient":"linear","stops":[{"offset":0,"color":"#000000"},{"offset":0.1,"color":"#241212"},{"offset":0.2,"color":"#5a0f10"},{"offset":0.3,"color":"#a81c20"},{"offset":0.4,"color":"#ed1c24"},{"offset":0.5,"color":"#f58220"},{"offset":0.6,"color":"#ffd200"},{"offset":0.7,"color":"#f6ec23"},{"offset":0.8,"color":"#fbf59b"},{"offset":0.9,"color":"#fefbd8"},{"offset":1,"color":"#fffff2"}]}},"encoding":{"x":{"field":"x","type":"quantitative"},"x2":{"field":"x2"},"y":{"field":"y","type":"quantitative"},"y2":{"field":"y2"}}},
{"data":{"values":[{"x":216,"y":38,"t":"Accuracy Key"}]},"mark":{"type":"text","fontSize":27,"color":"#231f20"},"encoding":{"x":{"field":"x","type":"quantitative"},"y":{"field":"y","type":"quantitative"},"text":{"field":"t"}}},
{"data":{"values":[{"x":213,"y":76,"t":"Percent (%)"}]},"mark":{"type":"text","fontSize":21,"color":"#231f20"},"encoding":{"x":{"field":"x","type":"quantitative"},"y":{"field":"y","type":"quantitative"},"text":{"field":"t"}}},
{"data":{"values":[{"x":72,"y":110,"t":"0"},{"x":127,"y":110,"t":"20"},{"x":179,"y":110,"t":"40"},{"x":233,"y":110,"t":"60"},{"x":290,"y":110,"t":"80"},{"x":344,"y":110,"t":"100"}]},"mark":{"type":"text","fontSize":22,"color":"#231f20"},"encoding":{"x":{"field":"x","type":"quantitative"},"y":{"field":"y","type":"quantitative"},"text":{"field":"t"}}},
{"data":{"values":[{"x":8,"y":110,"t":"TBA (28-02-2006)"}]},"mark":{"type":"text","fontSize":19,"angle":90,"color":"#231f20"},"encoding":{"x":{"field":"x","type":"quantitative"},"y":{"field":"y","type":"quantitative"},"text":{"field":"t"}}}]},
{"width":177,"height":160,"view":{"stroke":null},"data":{"values":[]},"mark":"point","encoding":{}},
{"width":6,"height":160,"view":{"stroke":null},"data":{"values":[]},"mark":"point","encoding":{}}
]}
